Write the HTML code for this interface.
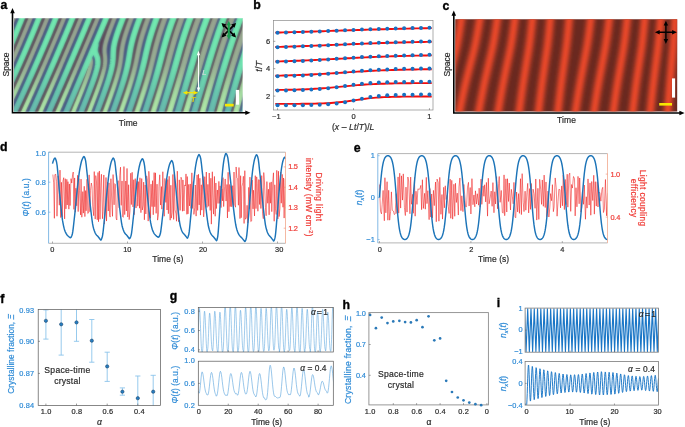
<!DOCTYPE html>
<html lang="en"><head><meta charset="utf-8"><title>Figure</title>
<style>html,body{margin:0;padding:0;background:#fff}svg{display:block}text{font-family:"Liberation Sans", sans-serif}</style></head>
<body>
<svg width="685" height="427" viewBox="0 0 685 427">
<defs><clipPath id="ca"><rect x="14" y="18.1" width="228.6" height="93.7"/></clipPath>
<linearGradient id="gA" gradientUnits="userSpaceOnUse" x1="0" y1="18" x2="0" y2="112"><stop offset="0" stop-color="#72eab0"/><stop offset="0.5" stop-color="#70e2b0"/><stop offset="0.8" stop-color="#68c6ae"/><stop offset="1" stop-color="#68baae"/></linearGradient>
<linearGradient id="gB" gradientUnits="userSpaceOnUse" x1="0" y1="18" x2="0" y2="112"><stop offset="0" stop-color="#98a590"/><stop offset="0.5" stop-color="#9ab094"/><stop offset="0.8" stop-color="#a6dca2"/><stop offset="1" stop-color="#b0eaa8"/></linearGradient>
<filter id="bla" filterUnits="userSpaceOnUse" x="0" y="0" width="260" height="130"><feGaussianBlur stdDeviation="0.9"/></filter>
<path id="pA" d="M8,51.88L8.55,50.6L9.21,49.1L9.85,47.6L10.5,46.1L11,44.93L11.57,43.6L12.21,42.1L12.85,40.6L13.49,39.1L14,37.88L14.54,36.6L15.17,35.1L15.8,33.6L16.42,32.1L17,30.72L17.5,29.51L18.08,28.1L18.7,26.6L19.32,25.1L19.93,23.6L20.5,22.2L21,20.97L21.55,19.6L22.16,18.1L22.76,16.6L23.36,15.1L23.96,13.6L24.5,12.25L24.56,12.1M8,89.27L8.54,88.1L9.23,86.6L9.92,85.1L10.5,83.84L11.07,82.6L11.75,81.1L12.44,79.6L13,78.36L13.57,77.1L14.25,75.6L14.93,74.1L15.5,72.83L16.05,71.6L16.73,70.1L17.4,68.6L18,67.25L18.51,66.1L19.18,64.6L19.84,63.1L20.5,61.61L21,60.47L21.6,59.1L22.26,57.6L22.92,56.1L23.5,54.77L24.01,53.6L24.66,52.1L25.31,50.6L25.96,49.1L26.5,47.84L27.03,46.6L27.68,45.1L28.32,43.6L28.96,42.1L29.5,40.83L30.02,39.6L30.66,38.1L31.29,36.6L31.92,35.1L32.5,33.72L33,32.53L33.6,31.1L34.22,29.6L34.85,28.1L35.47,26.6L36,25.31L36.5,24.1L37.12,22.6L37.73,21.1L38.35,19.6L38.96,18.1L39.5,16.77L40,15.54L40.58,14.1L41.19,12.6L41.39,12.1M11.65,118.1L12.35,116.6L13,115.22L13.52,114.1L14.23,112.6L14.93,111.1L15.5,109.87L16.09,108.6L16.79,107.1L17.48,105.6L18,104.48L18.64,103.1L19.33,101.6L20,100.15L20.5,99.06L21.17,97.6L21.86,96.1L22.5,94.69L23,93.6L23.68,92.1L24.36,90.6L25,89.2L25.5,88.1L26.18,86.6L26.85,85.1L27.5,83.67L28,82.56L28.65,81.1L29.33,79.6L30,78.1L30.5,76.98L31.11,75.6L31.78,74.1L32.45,72.6L33,71.35L33.56,70.1L34.22,68.6L34.88,67.1L35.5,65.69L36,64.55L36.64,63.1L37.29,61.6L37.95,60.1L38.5,58.84L39.04,57.6L39.69,56.1L40.34,54.6L40.99,53.1L41.5,51.92L42.07,50.6L42.71,49.1L43.36,47.6L44,46.1L44.5,44.93L45.07,43.6L45.71,42.1L46.35,40.6L46.98,39.1L47.5,37.88L48.04,36.6L48.68,35.1L49.31,33.6L49.94,32.1L50.5,30.76L51,29.57L51.61,28.1L52.24,26.6L52.86,25.1L53.49,23.6L54,22.36L54.52,21.1L55.14,19.6L55.76,18.1L56.38,16.6L56.99,15.1L57.5,13.86L58.01,12.6L58.22,12.1M28.96,118.1L29.5,116.91L30.09,115.6L30.78,114.1L31.46,112.6L32,111.41L32.59,110.1L33.27,108.6L33.95,107.1L34.5,105.88L35.08,104.6L35.75,103.1L36.43,101.6L37,100.33L37.55,99.1L38.22,97.6L38.89,96.1L39.5,94.74L40.01,93.6L40.68,92.1L41.35,90.6L42,89.14L42.5,88.01L43.13,86.6L43.79,85.1L44.45,83.6L45,82.37L45.56,81.1L46.22,79.6L46.88,78.1L47.5,76.69L48,75.55L48.64,74.1L49.29,72.6L49.95,71.1L50.5,69.84L51.04,68.6L51.7,67.1L52.35,65.6L53,64.1L53.5,62.95L54.09,61.6L54.74,60.1L55.39,58.6L56,57.18L56.5,56.02L57.11,54.6L57.76,53.1L58.4,51.6L59,50.2L59.5,49.04L60.12,47.6L60.76,46.1L61.4,44.6L62,43.18L62.5,42.01L63.1,40.6L63.74,39.1L64.37,37.6L65,36.12L65.5,34.94L66.06,33.6L66.7,32.1L67.33,30.6L67.96,29.1L68.5,27.81L69.01,26.6L69.64,25.1L70.27,23.6L70.89,22.1L71.5,20.64L72,19.44L72.56,18.1L73.18,16.6L73.8,15.1L74.43,13.6L75,12.21L75.05,12.1M46.26,118.1L46.92,116.6L47.5,115.3L48.03,114.1L48.69,112.6L49.35,111.1L50,109.63L50.5,108.49L51.11,107.1L51.77,105.6L52.43,104.1L53,102.8L53.53,101.6L54.18,100.1L54.84,98.6L55.5,97.1L56,95.95L56.59,94.6L57.24,93.1L57.9,91.6L58.5,90.22L59,89.07L59.64,87.6L60.29,86.1L60.95,84.6L61.5,83.33L62.03,82.1L62.68,80.6L63.33,79.1L63.98,77.6L64.5,76.41L65.07,75.1L65.71,73.6L66.36,72.1L67,70.62L67.5,69.46L68.09,68.1L68.73,66.6L69.38,65.1L70,63.66L70.5,62.49L71.1,61.1L71.74,59.6L72.39,58.1L73,56.67L73.5,55.5L74.1,54.1L74.74,52.6L75.38,51.1L76,49.65L76.5,48.48L77.09,47.1L77.73,45.6L78.37,44.1L79,42.61L79.5,41.44L80.07,40.1L80.7,38.6L81.34,37.1L81.98,35.6L82.5,34.36L83.04,33.1L83.67,31.6L84.3,30.1L84.94,28.6L85.5,27.27L86,26.08L86.62,24.6L87.26,23.1L87.89,21.6L88.5,20.14L89,18.95L89.57,17.6L90.2,16.1L90.83,14.6L91.45,13.1L91.87,12.1M63.57,118.1L64.21,116.6L64.85,115.1L65.49,113.6L66,112.42L66.56,111.1L67.21,109.6L67.85,108.1L68.49,106.6L69,105.4L69.56,104.1L70.2,102.6L70.84,101.1L71.48,99.6L72,98.38L72.55,97.1L73.19,95.6L73.83,94.1L74.47,92.6L75,91.36L75.54,90.1L76.18,88.6L76.82,87.1L77.46,85.6L78,84.33L78.53,83.1L79.16,81.6L79.8,80.1L80.44,78.6L81,77.3L81.51,76.1L82.15,74.6L82.79,73.1L83.43,71.6L84,70.26L84.5,69.08L85.13,67.6L85.77,66.1L86.41,64.6L87,63.21L87.5,62.04L88.11,60.6L88.75,59.1L89.39,57.6L90,56.16L90.5,54.99L91.09,53.6L91.73,52.1L92.36,50.6L93,49.11L93.5,47.93L94.07,46.6L94.7,45.1L95.34,43.6L95.98,42.1L96.5,40.87L97.04,39.6L97.68,38.1L98.31,36.6L98.95,35.1L99.5,33.8L100.01,32.6L100.65,31.1L101.28,29.6L101.92,28.1L102.5,26.73L103,25.55L103.62,24.1L104.25,22.6L104.89,21.1L105.5,19.65L106,18.47L106.58,17.1L107.22,15.6L107.85,14.1L108.49,12.6L108.7,12.1M94.56,118.1L95.14,116.6L95.71,115.1L96.29,113.6L96.86,112.1L97.43,110.6L98,109.1L98.5,107.78L99,106.45L99.51,105.1L100.07,103.6L100.64,102.1L101.2,100.6L101.75,99.1L102.31,97.6L102.86,96.1L103.4,94.6L103.95,93.1L104.49,91.6L105,90.16L105.5,88.75L106,87.31L106.5,85.86L107,84.39L107.5,82.9L108,81.38L108.5,79.82L109,78.22L109.49,76.6L109.93,75.1L110.35,73.6L110.75,72.1L111.13,70.6L111.5,69L111.9,67.1L112.18,65.6L112.5,63.6L112.69,62.1L112.88,60.1L113,58.41L113.08,56.6L113.15,54.6L113.22,52.6L113.33,50.6L113.5,48.77L113.71,47.1L114,45.37L114.36,43.6L114.7,42.1L115.09,40.6L115.5,39.1L116,37.4L116.5,35.8L117,34.26L117.5,32.78L118,31.33L118.5,29.91L119,28.52L119.52,27.1L120.08,25.6L120.64,24.1L121.21,22.6L121.79,21.1L122.37,19.6L122.96,18.1L123.5,16.73L124,15.47L124.55,14.1L125.15,12.6L125.35,12.1M110.58,118.1L111.13,116.6L111.67,115.1L112.22,113.6L112.76,112.1L113.3,110.6L113.84,109.1L114.38,107.6L114.92,106.1L115.46,104.6L115.99,103.1L116.5,101.66L117,100.25L117.5,98.83L118,97.4L118.5,95.96L119,94.51L119.5,93.05L120,91.58L120.5,90.09L121,88.59L121.5,87.07L122,85.54L122.5,83.97L123,82.38L123.5,80.76L124,79.11L124.44,77.6L124.87,76.1L125.29,74.6L125.7,73.1L126.09,71.6L126.5,69.96L126.94,68.1L127.28,66.6L127.6,65.1L128,63.13L128.29,61.6L128.56,60.1L128.9,58.1L129.15,56.6L129.47,54.6L129.71,53.1L130,51.39L130.31,49.6L130.59,48.1L130.99,46.1L131.32,44.6L131.66,43.1L132.03,41.6L132.5,39.79L132.96,38.1L133.39,36.6L133.84,35.1L134.31,33.6L134.79,32.1L135.28,30.6L135.78,29.1L136.3,27.6L136.82,26.1L137.36,24.6L137.9,23.1L138.45,21.6L139,20.12L139.5,18.79L140,17.47L140.53,16.1L141.11,14.6L141.69,13.1L142.08,12.1M126.72,118.1L127.24,116.6L127.76,115.1L128.28,113.6L128.8,112.1L129.31,110.6L129.83,109.1L130.34,107.6L130.86,106.1L131.37,104.6L131.88,103.1L132.38,101.6L132.89,100.1L133.39,98.6L133.89,97.1L134.39,95.6L134.88,94.1L135.38,92.6L135.86,91.1L136.35,89.6L136.82,88.1L137.3,86.6L137.77,85.1L138.23,83.6L138.69,82.1L139.14,80.6L139.58,79.1L140.02,77.6L140.5,75.9L141,74.11L141.41,72.6L141.81,71.1L142.21,69.6L142.59,68.1L143,66.46L143.45,64.6L143.81,63.1L144.16,61.6L144.5,60.1L144.95,58.1L145.29,56.6L145.62,55.1L146,53.41L146.41,51.6L146.75,50.1L147.11,48.6L147.5,46.96L147.96,45.1L148.34,43.6L148.74,42.1L149.15,40.6L149.57,39.1L150,37.59L150.5,35.91L151,34.27L151.5,32.67L152,31.12L152.5,29.6L153,28.1L153.5,26.63L154,25.19L154.5,23.77L155,22.37L155.5,20.99L156.01,19.6L156.56,18.1L157.12,16.6L157.69,15.1L158.26,13.6L158.84,12.1M142.99,118.1L143.49,116.6L143.99,115.1L144.48,113.6L144.97,112.1L145.47,110.6L145.96,109.1L146.45,107.6L146.94,106.1L147.43,104.6L147.92,103.1L148.41,101.6L148.89,100.1L149.38,98.6L149.86,97.1L150.34,95.6L150.82,94.1L151.29,92.6L151.76,91.1L152.23,89.6L152.7,88.1L153.16,86.6L153.62,85.1L154.07,83.6L154.52,82.1L155,80.49L155.5,78.79L155.99,77.1L156.42,75.6L156.85,74.1L157.27,72.6L157.69,71.1L158.1,69.6L158.51,68.1L159,66.26L159.44,64.6L159.84,63.1L160.23,61.6L160.62,60.1L161,58.6L161.5,56.68L161.91,55.1L162.3,53.6L162.69,52.1L163.08,50.6L163.5,49.03L164,47.17L164.43,45.6L164.85,44.1L165.27,42.6L165.71,41.1L166.15,39.6L166.6,38.1L167.06,36.6L167.52,35.1L168,33.59L168.5,32.04L169,30.51L169.5,29.01L170,27.54L170.5,26.08L171.02,24.6L171.55,23.1L172.08,21.6L172.63,20.1L173.18,18.6L173.73,17.1L174.3,15.6L174.87,14.1L175.44,12.6L175.63,12.1M159.39,118.1L159.86,116.6L160.34,115.1L160.81,113.6L161.28,112.1L161.76,110.6L162.23,109.1L162.7,107.6L163.17,106.1L163.65,104.6L164.12,103.1L164.59,101.6L165.05,100.1L165.52,98.6L166,97.06L166.5,95.45L167,93.83L167.5,92.2L167.99,90.6L168.45,89.1L168.9,87.6L169.36,86.1L169.81,84.6L170.26,83.1L170.71,81.6L171.15,80.1L171.59,78.6L172.03,77.1L172.5,75.49L173,73.76L173.48,72.1L173.91,70.6L174.33,69.1L174.76,67.6L175.18,66.1L175.6,64.6L176.02,63.1L176.5,61.39L177,59.6L177.42,58.1L177.84,56.6L178.26,55.1L178.69,53.6L179.11,52.1L179.54,50.6L180,49L180.5,47.28L180.99,45.6L181.44,44.1L181.89,42.6L182.35,41.1L182.81,39.6L183.28,38.1L183.76,36.6L184.24,35.1L184.73,33.6L185.22,32.1L185.73,30.6L186.24,29.1L186.75,27.6L187.27,26.1L187.8,24.6L188.34,23.1L188.88,21.6L189.42,20.1L189.98,18.6L190.5,17.2L191,15.87L191.5,14.55L192.05,13.1L192.44,12.1M175.9,118.1L176.35,116.6L176.8,115.1L177.26,113.6L177.71,112.1L178.17,110.6L178.62,109.1L179.08,107.6L179.53,106.1L180,104.55L180.5,102.9L181,101.25L181.5,99.6L181.95,98.1L182.41,96.6L182.86,95.1L183.31,93.6L183.76,92.1L184.22,90.6L184.67,89.1L185.12,87.6L185.56,86.1L186.01,84.6L186.5,82.96L187,81.27L187.5,79.6L187.94,78.1L188.38,76.6L188.82,75.1L189.26,73.6L189.7,72.1L190.14,70.6L190.58,69.1L191.02,67.6L191.5,65.95L192,64.23L192.48,62.6L192.92,61.1L193.36,59.6L193.8,58.1L194.24,56.6L194.68,55.1L195.13,53.6L195.58,52.1L196.03,50.6L196.5,49.05L197,47.42L197.5,45.8L198,44.19L198.5,42.6L198.98,41.1L199.46,39.6L199.95,38.1L200.44,36.6L200.93,35.1L201.44,33.6L201.95,32.1L202.46,30.6L202.98,29.1L203.5,27.61L204,26.2L204.5,24.8L205,23.42L205.5,22.04L206.03,20.6L206.59,19.1L207.15,17.6L207.72,16.1L208.29,14.6L208.87,13.1L209.26,12.1M192.5,118.1L193,116.38L193.5,114.65L193.95,113.1L194.39,111.6L194.83,110.1L195.26,108.6L195.7,107.1L196.14,105.6L196.58,104.1L197.03,102.6L197.5,100.99L198,99.29L198.5,97.6L198.94,96.1L199.38,94.6L199.83,93.1L200.27,91.6L200.71,90.1L201.16,88.6L201.6,87.1L202.04,85.6L202.5,84.06L203,82.37L203.5,80.68L203.97,79.1L204.41,77.6L204.86,76.1L205.3,74.6L205.75,73.1L206.19,71.6L206.64,70.1L207.09,68.6L207.53,67.1L208,65.54L208.5,63.88L209,62.21L209.49,60.6L209.94,59.1L210.4,57.6L210.86,56.1L211.32,54.6L211.78,53.1L212.25,51.6L212.72,50.1L213.19,48.6L213.67,47.1L214.15,45.6L214.63,44.1L215.12,42.6L215.61,41.1L216.11,39.6L216.61,38.1L217.11,36.6L217.62,35.1L218.14,33.6L218.66,32.1L219.19,30.6L219.72,29.1L220.25,27.6L220.79,26.1L221.34,24.6L221.89,23.1L222.44,21.6L223,20.11L223.5,18.79L224,17.48L224.53,16.1L225.11,14.6L225.69,13.1L226.09,12.1M209.19,118.1L209.61,116.6L210.03,115.1L210.5,113.4L211,111.62L211.43,110.1L211.85,108.6L212.27,107.1L212.7,105.6L213.13,104.1L213.56,102.6L214,101.05L214.5,99.3L214.99,97.6L215.42,96.1L215.86,94.6L216.29,93.1L216.73,91.6L217.16,90.1L217.6,88.6L218.04,87.1L218.5,85.53L219,83.83L219.5,82.13L219.95,80.6L220.4,79.1L220.84,77.6L221.29,76.1L221.73,74.6L222.18,73.1L222.63,71.6L223.08,70.1L223.54,68.6L224,67.07L224.5,65.42L225,63.79L225.5,62.16L225.98,60.6L226.45,59.1L226.91,57.6L227.38,56.1L227.86,54.6L228.33,53.1L228.81,51.6L229.29,50.1L229.78,48.6L230.27,47.1L230.76,45.6L231.25,44.1L231.75,42.6L232.26,41.1L232.77,39.6L233.28,38.1L233.8,36.6L234.32,35.1L234.84,33.6L235.37,32.1L235.91,30.6L236.45,29.1L237,27.6L237.5,26.22L238,24.87L238.5,23.53L239.04,22.1L239.6,20.6L240.18,19.1L240.75,17.6L241.34,16.1L241.92,14.6L242.5,13.14L242.92,12.1M225.95,118.1L226.35,116.6L226.75,115.1L227.16,113.6L227.56,112.1L228,110.48L228.5,108.65L228.92,107.1L229.34,105.6L229.75,104.1L230.17,102.6L230.59,101.1L231,99.6L231.5,97.84L231.99,96.1L232.41,94.6L232.84,93.1L233.27,91.6L233.7,90.1L234.13,88.6L234.57,87.1L235,85.6L235.5,83.88L236,82.17L236.46,80.6L236.9,79.1L237.35,77.6L237.79,76.1L238.24,74.6L238.69,73.1L239.15,71.6L239.6,70.1L240.06,68.6L240.51,67.1L241,65.52L241.5,63.9L242,62.29L242.5,60.69L243,59.1L243.48,57.6L243.95,56.1L244.43,54.6L244.92,53.1L245.41,51.6L245.9,50.1L246.39,48.6L246.89,47.1L247.39,45.6L247.9,44.1L248.41,42.6L248.92,41.1L249,40.87M95.52,46.6L95.63,46.1L95.5,46.05L95.43,46.1L95.49,46.6L95.5,46.68L95.52,46.6M78.66,118.1L79.26,116.6L79.87,115.1L80.47,113.6L81,112.29L81.5,111.04L82.08,109.6L82.68,108.1L83.28,106.6L83.87,105.1L84.47,103.6L85,102.27L85.5,101L86.05,99.6L86.64,98.1L87.23,96.6L87.82,95.1L88.4,93.6L88.98,92.1L89.5,90.73L90,89.42L90.5,88.1L91.06,86.6L91.62,85.1L92.17,83.6L92.71,82.1L93.25,80.6L93.77,79.1L94.28,77.6L94.78,76.1L95.26,74.6L95.73,73.1L96.16,71.6L96.57,70.1L97,68.36L97.37,66.6L97.62,65.1L97.84,63.1L97.88,61.1L97.67,59.1L97.32,57.6L96.81,56.1L96.18,54.6L95.58,53.1L95.2,51.6L95.08,49.6L95.31,47.6L94.5,48.43L93.72,49.6L93.2,51.1L92.67,52.6L92.16,54.1M242.78,118.1L243.16,116.6L243.55,115.1L244,113.35L244.45,111.6L244.85,110.1L245.24,108.6L245.64,107.1L246.04,105.6L246.5,103.89L246.98,102.1L247.39,100.6L247.8,99.1L248.21,97.6L248.63,96.1L249,94.75"/><path id="pB" d="M16.14,12.1L15.55,13.6L15,14.99L14.5,16.25L13.96,17.6L13.36,19.1L12.76,20.6L12.15,22.1L11.54,23.6L11,24.93L10.5,26.15L9.91,27.6L9.29,29.1L8.67,30.6L8.05,32.1L8,32.21M32.97,12.1L32.37,13.6L31.77,15.1L31.17,16.6L30.56,18.1L30,19.48L29.5,20.71L28.93,22.1L28.32,23.6L27.7,25.1L27.08,26.6L26.5,28.01L26,29.22L25.43,30.6L24.8,32.1L24.18,33.6L23.55,35.1L23,36.4L22.49,37.6L21.86,39.1L21.22,40.6L20.59,42.1L20,43.47L19.5,44.64L18.87,46.1L18.23,47.6L17.58,49.1L17,50.44L16.5,51.6L15.84,53.1L15.19,54.6L14.53,56.1L14,57.32L13.44,58.6L12.77,60.1L12.11,61.6L11.5,62.98L11,64.1L10.33,65.6L9.66,67.1L9,68.57L8.5,69.68L8,70.79M49.8,12.1L49.2,13.6L48.58,15.1L48,16.53L47.5,17.76L46.95,19.1L46.33,20.6L45.72,22.1L45.1,23.6L44.5,25.04L44,26.25L43.44,27.6L42.81,29.1L42.19,30.6L41.56,32.1L41,33.43L40.5,34.62L39.88,36.1L39.24,37.6L38.61,39.1L38,40.53L37.5,41.71L36.91,43.1L36.27,44.6L35.62,46.1L35,47.55L34.5,48.72L33.9,50.1L33.26,51.6L32.61,53.1L32,54.5L31.5,55.65L30.87,57.1L30.21,58.6L29.56,60.1L29,61.37L28.46,62.6L27.8,64.1L27.14,65.6L26.5,67.04L26,68.16L25.36,69.6L24.69,71.1L24.03,72.6L23.5,73.77L22.91,75.1L22.23,76.6L21.56,78.1L21,79.34L20.43,80.6L19.75,82.1L19.07,83.6L18.5,84.85L17.93,86.1L17.25,87.6L16.56,89.1L16,90.32L15.41,91.6L14.72,93.1L14.03,94.6L13.5,95.75L12.88,97.1L12.18,98.6L11.5,100.06L11,101.13L10.32,102.6L9.61,104.1L9,105.41L8.44,106.6L8,107.54M66.63,12.1L66.02,13.6L65.5,14.85L64.99,16.1L64.37,17.6L63.74,19.1L63.12,20.6L62.5,22.1L62,23.3L61.46,24.6L60.83,26.1L60.21,27.6L59.58,29.1L59,30.47L58.5,31.66L57.9,33.1L57.26,34.6L56.63,36.1L56,37.59L55.5,38.77L54.93,40.1L54.3,41.6L53.66,43.1L53.02,44.6L52.5,45.81L51.95,47.1L51.31,48.6L50.66,50.1L50.02,51.6L49.5,52.8L48.94,54.1L48.29,55.6L47.64,57.1L47,58.58L46.5,59.74L45.91,61.1L45.25,62.6L44.6,64.1L44,65.47L43.5,66.62L42.85,68.1L42.19,69.6L41.53,71.1L41,72.31L40.43,73.6L39.77,75.1L39.1,76.6L38.5,77.96L38,79.1L37.33,80.6L36.66,82.1L36,83.58L35.5,84.7L34.87,86.1L34.2,87.6L33.53,89.1L33,90.28L32.41,91.6L31.73,93.1L31.05,94.6L30.5,95.82L29.92,97.1L29.24,98.6L28.56,100.1L28,101.33L27.42,102.6L26.74,104.1L26.05,105.6L25.5,106.81L24.91,108.1L24.22,109.6L23.53,111.1L23,112.26L22.38,113.6L21.69,115.1L21,116.59L20.5,117.67L20.3,118.1M83.46,12.1L82.84,13.6L82.21,15.1L81.58,16.6L81,18L80.5,19.2L79.91,20.6L79.28,22.1L78.66,23.6L78.03,25.1L77.5,26.35L76.97,27.6L76.34,29.1L75.71,30.6L75.08,32.1L74.5,33.47L74,34.65L73.39,36.1L72.75,37.6L72.11,39.1L71.5,40.55L71,41.72L70.41,43.1L69.77,44.6L69.14,46.1L68.5,47.59L68,48.76L67.43,50.1L66.78,51.6L66.14,53.1L65.5,54.59L65,55.76L64.42,57.1L63.78,58.6L63.13,60.1L62.5,61.57L62,62.72L61.41,64.1L60.76,65.6L60.11,67.1L59.5,68.5L59,69.65L58.37,71.1L57.72,72.6L57.07,74.1L56.5,75.4L55.98,76.6L55.32,78.1L54.67,79.6L54.01,81.1L53.5,82.27L52.92,83.6L52.26,85.1L51.6,86.6L51,87.97L50.5,89.1L49.84,90.6L49.18,92.1L48.52,93.6L48,94.77L47.41,96.1L46.75,97.6L46.09,99.1L45.5,100.42L44.98,101.6L44.31,103.1L43.64,104.6L43,106.05L42.5,107.17L41.86,108.6L41.19,110.1L40.52,111.6L40,112.77L39.4,114.1L38.73,115.6L38.06,117.1L37.61,118.1M100.29,12.1L99.65,13.6L99.02,15.1L98.5,16.34L97.97,17.6L97.34,19.1L96.7,20.6L96.07,22.1L95.5,23.45L95,24.63L94.38,26.1L93.74,27.6L93.11,29.1L92.5,30.54L92,31.72L91.42,33.1L90.78,34.6L90.14,36.1L89.51,37.6L89,38.8L88.45,40.1L87.81,41.6L87.17,43.1L86.53,44.6L86,45.86L85.47,47.1L84.83,48.6L84.19,50.1L83.55,51.6L83,52.9L82.49,54.1L81.85,55.6L81.21,57.1L80.57,58.6L80,59.93L79.5,61.1L78.86,62.6L78.22,64.1L77.57,65.6L77,66.94L76.5,68.11L75.86,69.6L75.22,71.1L74.57,72.6L74,73.94L73.5,75.1L72.86,76.6L72.21,78.1L71.57,79.6L71,80.92L70.49,82.1L69.85,83.6L69.2,85.1L68.55,86.6L68,87.89L67.48,89.1L66.83,90.6L66.18,92.1L65.53,93.6L65,94.84L64.45,96.1L63.81,97.6L63.16,99.1L62.51,100.6L62,101.78L61.43,103.1L60.78,104.6L60.13,106.1L59.5,107.54L59,108.7L58.39,110.1L57.74,111.6L57.09,113.1L56.5,114.46L56,115.61L55.35,117.1L54.91,118.1M116.99,12.1L116.38,13.6L115.77,15.1L115.16,16.6L114.56,18.1L114,19.5L113.5,20.75L112.97,22.1L112.37,23.6L111.79,25.1L111.21,26.6L110.63,28.1L110.06,29.6L109.5,31.1L109,32.47L108.5,33.86L108,35.28L107.5,36.74L107,38.26L106.5,39.86L106,41.57L105.6,43.1L105.25,44.6L104.96,46.1L104.69,48.1L104.57,50.1L104.62,52.1L104.79,54.1L105,56.02L105.14,57.6L105.22,59.6L105.19,61.6L105.02,63.6L104.83,65.1L104.5,67.03L104.18,68.6L103.83,70.1L103.45,71.6L103,73.25L102.5,74.98L102.01,76.6L101.53,78.1L101.05,79.6L100.55,81.1L100.04,82.6L99.51,84.1L99,85.56L98.5,86.96L98,88.35L97.5,89.72L96.99,91.1L96.44,92.6L95.88,94.1L95.31,95.6L94.75,97.1L94.18,98.6L93.6,100.1L93.03,101.6L92.5,102.97L92,104.27L91.48,105.6L90.9,107.1L90.32,108.6L89.73,110.1L89.15,111.6L88.56,113.1L88,114.53L87.5,115.81L86.99,117.1L86.6,118.1M133.71,12.1L133.12,13.6L132.53,15.1L132,16.45L131.5,17.74L130.98,19.1L130.41,20.6L129.84,22.1L129.28,23.6L128.73,25.1L128.19,26.6L127.65,28.1L127.13,29.6L126.62,31.1L126.12,32.6L125.63,34.1L125.16,35.6L124.71,37.1L124.28,38.6L123.87,40.1L123.49,41.6L123.02,43.6L122.71,45.1L122.42,46.6L122.09,48.6L121.87,50.1L121.61,52.1L121.44,53.6L121.22,55.6L121,57.54L120.81,59.1L120.54,61.1L120.31,62.6L120,64.4L119.68,66.1L119.37,67.6L119,69.24L118.55,71.1L118.17,72.6L117.77,74.1L117.35,75.6L116.92,77.1L116.48,78.6L116,80.16L115.5,81.76L115,83.32L114.5,84.85L114,86.36L113.5,87.85L113,89.32L112.5,90.78L112,92.22L111.5,93.65L110.99,95.1L110.45,96.6L109.92,98.1L109.38,99.6L108.83,101.1L108.29,102.6L107.74,104.1L107.19,105.6L106.64,107.1L106.09,108.6L105.53,110.1L105,111.54L104.5,112.89L104,114.23L103.49,115.6L102.93,117.1L102.56,118.1M150.46,12.1L149.88,13.6L149.3,15.1L148.73,16.6L148.16,18.1L147.6,19.6L147.05,21.1L146.5,22.6L146,24L145.5,25.42L145,26.85L144.5,28.31L144,29.8L143.5,31.33L143,32.89L142.5,34.49L142.01,36.1L141.58,37.6L141.15,39.1L140.74,40.6L140.35,42.1L139.97,43.6L139.5,45.58L139.15,47.1L138.82,48.6L138.5,50.13L138.1,52.1L137.8,53.6L137.5,55.11L137.11,57.1L136.81,58.6L136.5,60.13L136.09,62.1L135.76,63.6L135.43,65.1L135,66.96L134.61,68.6L134.23,70.1L133.85,71.6L133.45,73.1L133,74.75L132.5,76.53L132.05,78.1L131.61,79.6L131.16,81.1L130.7,82.6L130.24,84.1L129.77,85.6L129.29,87.1L128.8,88.6L128.31,90.1L127.82,91.6L127.32,93.1L126.82,94.6L126.31,96.1L125.81,97.6L125.29,99.1L124.78,100.6L124.26,102.1L123.74,103.6L123.22,105.1L122.69,106.6L122.17,108.1L121.64,109.6L121.11,111.1L120.58,112.6L120.05,114.1L119.52,115.6L119,117.07L118.63,118.1M167.23,12.1L166.66,13.6L166.09,15.1L165.52,16.6L165,18L164.5,19.35L164,20.72L163.5,22.11L162.97,23.6L162.44,25.1L161.92,26.6L161.41,28.1L160.91,29.6L160.41,31.1L159.93,32.6L159.45,34.1L158.99,35.6L158.5,37.22L158,38.91L157.51,40.6L157.09,42.1L156.68,43.6L156.27,45.1L155.88,46.6L155.49,48.1L155,50.05L154.61,51.6L154.24,53.1L153.88,54.6L153.5,56.16L153.03,58.1L152.66,59.6L152.29,61.1L151.92,62.6L151.5,64.29L151.04,66.1L150.65,67.6L150.26,69.1L149.86,70.6L149.45,72.1L149,73.73L148.5,75.51L148.05,77.1L147.61,78.6L147.17,80.1L146.73,81.6L146.27,83.1L145.82,84.6L145.36,86.1L144.89,87.6L144.42,89.1L143.95,90.6L143.47,92.1L142.99,93.6L142.5,95.12L142,96.66L141.5,98.19L141,99.71L140.5,101.23L140,102.74L139.5,104.25L139,105.75L138.5,107.24L138,108.73L137.5,110.22L137,111.71L136.5,113.19L136,114.68L135.5,116.15L135,117.63L134.84,118.1M184.03,12.1L183.5,13.49L183,14.8L182.5,16.13L181.95,17.6L181.39,19.1L180.84,20.6L180.3,22.1L179.77,23.6L179.24,25.1L178.71,26.6L178.2,28.1L177.69,29.6L177.19,31.1L176.69,32.6L176.21,34.1L175.73,35.6L175.25,37.1L174.79,38.6L174.33,40.1L173.88,41.6L173.44,43.1L173,44.61L172.5,46.35L172,48.1L171.58,49.6L171.17,51.1L170.76,52.6L170.35,54.1L169.94,55.6L169.5,57.23L169,59.08L168.59,60.6L168.18,62.1L167.78,63.6L167.37,65.1L166.96,66.6L166.5,68.25L166,70.04L165.56,71.6L165.14,73.1L164.71,74.6L164.28,76.1L163.84,77.6L163.4,79.1L162.96,80.6L162.5,82.16L162,83.83L161.5,85.49L161.01,87.1L160.55,88.6L160.09,90.1L159.63,91.6L159.16,93.1L158.69,94.6L158.22,96.1L157.75,97.6L157.27,99.1L156.8,100.6L156.32,102.1L155.84,103.6L155.36,105.1L154.88,106.6L154.4,108.1L153.92,109.6L153.44,111.1L152.95,112.6L152.47,114.1L151.98,115.6L151.5,117.1L151.18,118.1M200.85,12.1L200.27,13.6L199.69,15.1L199.13,16.6L198.56,18.1L198.01,19.6L197.5,20.97L197,22.34L196.5,23.73L196,25.13L195.48,26.6L194.95,28.1L194.44,29.6L193.92,31.1L193.42,32.6L192.92,34.1L192.42,35.6L191.94,37.1L191.45,38.6L190.98,40.1L190.5,41.62L190,43.23L189.5,44.86L189,46.51L188.52,48.1L188.08,49.6L187.63,51.1L187.19,52.6L186.76,54.1L186.32,55.6L185.89,57.1L185.45,58.6L185,60.18L184.5,61.93L184.02,63.6L183.59,65.1L183.16,66.6L182.73,68.1L182.3,69.6L181.86,71.1L181.43,72.6L180.99,74.1L180.5,75.79L180,77.49L179.53,79.1L179.08,80.6L178.64,82.1L178.19,83.6L177.74,85.1L177.29,86.6L176.84,88.1L176.39,89.6L175.93,91.1L175.48,92.6L175,94.17L174.5,95.81L174,97.45L173.5,99.08L173.03,100.6L172.57,102.1L172.11,103.6L171.65,105.1L171.18,106.6L170.72,108.1L170.26,109.6L169.79,111.1L169.33,112.6L168.87,114.1L168.4,115.6L167.94,117.1L167.63,118.1M217.67,12.1L217.09,13.6L216.51,15.1L216,16.42L215.5,17.74L214.99,19.1L214.42,20.6L213.87,22.1L213.32,23.6L212.77,25.1L212.23,26.6L211.7,28.1L211.17,29.6L210.65,31.1L210.13,32.6L209.62,34.1L209.11,35.6L208.61,37.1L208.11,38.6L207.62,40.1L207.13,41.6L206.65,43.1L206.17,44.6L205.69,46.1L205.22,47.6L204.76,49.1L204.29,50.6L203.83,52.1L203.37,53.6L202.92,55.1L202.46,56.6L202,58.14L201.5,59.81L201,61.49L200.52,63.1L200.08,64.6L199.63,66.1L199.19,67.6L198.75,69.1L198.3,70.6L197.86,72.1L197.42,73.6L196.97,75.1L196.5,76.71L196,78.4L195.5,80.09L195.05,81.6L194.61,83.1L194.16,84.6L193.72,86.1L193.27,87.6L192.82,89.1L192.38,90.6L191.93,92.1L191.48,93.6L191,95.22L190.5,96.89L190,98.56L189.54,100.1L189.09,101.6L188.65,103.1L188.2,104.6L187.75,106.1L187.3,107.6L186.86,109.1L186.41,110.6L185.96,112.1L185.5,113.67L185,115.35L184.5,117.04L184.19,118.1M234.5,12.1L234,13.37L233.5,14.64L232.93,16.1L232.35,17.6L231.78,19.1L231.21,20.6L230.65,22.1L230.09,23.6L229.53,25.1L229,26.56L228.5,27.94L228,29.33L227.5,30.73L227,32.15L226.49,33.6L225.97,35.1L225.45,36.6L224.94,38.1L224.44,39.6L223.93,41.1L223.43,42.6L222.94,44.1L222.45,45.6L221.96,47.1L221.48,48.6L221,50.1L220.5,51.68L220,53.26L219.5,54.86L219,56.47L218.5,58.08L218.03,59.6L217.57,61.1L217.12,62.6L216.66,64.1L216.21,65.6L215.75,67.1L215.3,68.6L214.85,70.1L214.4,71.6L213.95,73.1L213.5,74.63L213,76.31L212.5,77.99L212.02,79.6L211.58,81.1L211.14,82.6L210.69,84.1L210.25,85.6L209.81,87.1L209.37,88.6L208.93,90.1L208.49,91.6L208,93.26L207.5,94.97L207.02,96.6L206.59,98.1L206.15,99.6L205.71,101.1L205.28,102.6L204.84,104.1L204.41,105.6L203.98,107.1L203.5,108.76L203,110.5L202.54,112.1L202.12,113.6L201.69,115.1L201.26,116.6L200.84,118.1M249,18L248.5,19.29L248,20.6L247.42,22.1L246.86,23.6L246.29,25.1L245.74,26.6L245.18,28.1L244.64,29.6L244.09,31.1L243.55,32.6L243.02,34.1L242.5,35.57L242,37L241.5,38.44L241,39.89L240.5,41.36L240,42.83L239.5,44.32L239,45.82L238.5,47.33L238,48.85L237.5,50.38L237,51.92L236.5,53.48L236,55.04L235.5,56.6L235.03,58.1L234.56,59.6L234.09,61.1L233.63,62.6L233.16,64.1L232.7,65.6L232.24,67.1L231.79,68.6L231.33,70.1L230.88,71.6L230.43,73.1L229.98,74.6L229.5,76.21L229,77.89L228.5,79.58L228.05,81.1L227.61,82.6L227.17,84.1L226.73,85.6L226.29,87.1L225.86,88.6L225.42,90.1L224.99,91.6L224.5,93.3L224,95.04L223.55,96.6L223.13,98.1L222.7,99.6L222.28,101.1L221.85,102.6L221.43,104.1L221,105.63L220.5,107.42L220.03,109.1L219.62,110.6L219.2,112.1L218.79,113.6L218.38,115.1L217.97,116.6L217.56,118.1M90.44,58.6L90.88,60.1L91.04,61.6L90.99,63.1L90.72,65.1L90.41,66.6L90,68.25L89.5,70.02L89.01,71.6L88.53,73.1L88.02,74.6L87.5,76.07L87,77.47L86.5,78.84L86,80.18L85.47,81.6L84.89,83.1L84.32,84.6L83.73,86.1L83.15,87.6L82.56,89.1L82,90.5L81.5,91.76L80.96,93.1L80.36,94.6L79.76,96.1L79.15,97.6L78.54,99.1L78,100.43L77.5,101.66L76.91,103.1L76.3,104.6L75.69,106.1L75.07,107.6L74.5,108.99L74,110.2L73.42,111.6L72.81,113.1L72.19,114.6L71.57,116.1L71,117.47L70.74,118.1M249,66.44L248.5,68.06L248.03,69.6L247.58,71.1L247.12,72.6L246.67,74.1L246.22,75.6L245.78,77.1L245.33,78.6L244.89,80.1L244.45,81.6L244,83.14L243.5,84.86L243,86.59L242.57,88.1L242.14,89.6L241.71,91.1L241.29,92.6L240.86,94.1L240.44,95.6L240,97.18L239.5,98.97L239.05,100.6L238.64,102.1L238.23,103.6L237.82,105.1L237.41,106.6L237,108.12L236.5,109.98L236.07,111.6L235.67,113.1L235.27,114.6L234.88,116.1L234.49,117.6L234.36,118.1"/><path id="pC" d="M8,22.82L8.5,21.58L9.1,20.1L9.7,18.6L10.29,17.1L10.89,15.6L11.48,14.1L12,12.79L12.27,12.1M8,62.16L8.5,61.04L9.14,59.6L9.8,58.1L10.46,56.6L11,55.37L11.55,54.1L12.21,52.6L12.86,51.1L13.5,49.63L14,48.47L14.59,47.1L15.24,45.6L15.88,44.1L16.5,42.65L17,41.47L17.58,40.1L18.22,38.6L18.85,37.1L19.48,35.6L20,34.37L20.53,33.1L21.16,31.6L21.78,30.1L22.4,28.6L23,27.15L23.5,25.94L24.05,24.6L24.66,23.1L25.28,21.6L25.89,20.1L26.49,18.6L27,17.35L27.5,16.1L28.1,14.6L28.7,13.1L29.1,12.1M8,99.15L8.5,98.08L9.19,96.6L9.88,95.1L10.5,93.77L11.04,92.6L11.74,91.1L12.43,89.6L13,88.36L13.58,87.1L14.26,85.6L14.95,84.1L15.5,82.89L16.09,81.6L16.77,80.1L17.45,78.6L18,77.38L18.58,76.1L19.25,74.6L19.93,73.1L20.5,71.82L21.05,70.6L21.72,69.1L22.38,67.6L23,66.21L23.5,65.08L24.16,63.6L24.82,62.1L25.48,60.6L26,59.41L26.57,58.1L27.23,56.6L27.88,55.1L28.5,53.68L29,52.53L29.62,51.1L30.27,49.6L30.91,48.1L31.5,46.73L32,45.57L32.63,44.1L33.27,42.6L33.91,41.1L34.5,39.7L35,38.52L35.6,37.1L36.23,35.6L36.87,34.1L37.49,32.6L38,31.39L38.54,30.1L39.17,28.6L39.79,27.1L40.41,25.6L41,24.17L41.5,22.96L42.06,21.6L42.68,20.1L43.29,18.6L43.9,17.1L44.5,15.64L45,14.4L45.53,13.1L45.93,12.1M16.32,118.1L17,116.64L17.5,115.57L18.18,114.1L18.88,112.6L19.5,111.26L20.04,110.1L20.73,108.6L21.42,107.1L22,105.84L22.57,104.6L23.26,103.1L23.95,101.6L24.5,100.39L25.09,99.1L25.77,97.6L26.46,96.1L27,94.9L27.59,93.6L28.27,92.1L28.95,90.6L29.5,89.38L30.08,88.1L30.75,86.6L31.43,85.1L32,83.82L32.55,82.6L33.22,81.1L33.89,79.6L34.5,78.23L35,77.1L35.67,75.6L36.33,74.1L37,72.6L37.5,71.46L38.1,70.1L38.76,68.6L39.42,67.1L40,65.78L40.52,64.6L41.17,63.1L41.83,61.6L42.48,60.1L43,58.91L43.57,57.6L44.22,56.1L44.87,54.6L45.5,53.14L46,51.98L46.59,50.6L47.24,49.1L47.88,47.6L48.5,46.16L49,44.99L49.59,43.6L50.23,42.1L50.87,40.6L51.5,39.12L52,37.94L52.57,36.6L53.2,35.1L53.83,33.6L54.46,32.1L55,30.82L55.51,29.6L56.14,28.1L56.77,26.6L57.39,25.1L58,23.64L58.5,22.43L59.05,21.1L59.68,19.6L60.29,18.1L60.91,16.6L61.5,15.17L62,13.96L62.56,12.6L62.76,12.1M33.63,118.1L34.31,116.6L34.98,115.1L35.5,113.96L36.11,112.6L36.79,111.1L37.46,109.6L38,108.4L38.58,107.1L39.26,105.6L39.93,104.1L40.5,102.82L41.04,101.6L41.71,100.1L42.38,98.6L43,97.21L43.5,96.09L44.16,94.6L44.83,93.1L45.49,91.6L46,90.45L46.6,89.1L47.26,87.6L47.92,86.1L48.5,84.79L49.02,83.6L49.68,82.1L50.34,80.6L51,79.1L51.5,77.96L52.1,76.6L52.75,75.1L53.41,73.6L54,72.24L54.5,71.1L55.15,69.6L55.8,68.1L56.46,66.6L57,65.35L57.54,64.1L58.19,62.6L58.84,61.1L59.49,59.6L60,58.41L60.56,57.1L61.21,55.6L61.85,54.1L62.5,52.6L63,51.43L63.57,50.1L64.21,48.6L64.85,47.1L65.49,45.6L66,44.41L66.56,43.1L67.2,41.6L67.84,40.1L68.47,38.6L69,37.36L69.53,36.1L70.17,34.6L70.8,33.1L71.43,31.6L72,30.26L72.5,29.07L73.12,27.6L73.75,26.1L74.38,24.6L75,23.11L75.5,21.92L76.05,20.6L76.68,19.1L77.3,17.6L77.93,16.1L78.5,14.72L79,13.52L79.59,12.1M50.93,118.1L51.5,116.81L52.03,115.6L52.69,114.1L53.34,112.6L54,111.1L54.5,109.95L55.09,108.6L55.75,107.1L56.4,105.6L57,104.22L57.5,103.08L58.14,101.6L58.8,100.1L59.45,98.6L60,97.33L60.54,96.1L61.19,94.6L61.84,93.1L62.49,91.6L63,90.42L63.57,89.1L64.22,87.6L64.87,86.1L65.5,84.65L66,83.49L66.6,82.1L67.25,80.6L67.9,79.1L68.5,77.7L69,76.54L69.62,75.1L70.27,73.6L70.91,72.1L71.5,70.73L72,69.57L72.63,68.1L73.28,66.6L73.92,65.1L74.5,63.75L75,62.58L75.63,61.1L76.28,59.6L76.92,58.1L77.5,56.74L78,55.57L78.63,54.1L79.27,52.6L79.91,51.1L80.5,49.72L81,48.54L81.62,47.1L82.25,45.6L82.89,44.1L83.5,42.67L84,41.49L84.59,40.1L85.23,38.6L85.87,37.1L86.5,35.6L87,34.42L87.56,33.1L88.2,31.6L88.83,30.1L89.46,28.6L90,27.33L90.52,26.1L91.15,24.6L91.79,23.1L92.42,21.6L93,20.22L93.5,19.04L94.1,17.6L94.74,16.1L95.37,14.6L96,13.1L96.42,12.1M82.94,118.1L83.5,116.7L84,115.45L84.53,114.1L85.13,112.6L85.72,111.1L86.31,109.6L86.91,108.1L87.5,106.6L88,105.32L88.5,104.04L89.06,102.6L89.65,101.1L90.23,99.6L90.81,98.1L91.39,96.6L91.96,95.1L92.5,93.69L93,92.37L93.5,91.04L94.04,89.6L94.59,88.1L95.14,86.6L95.69,85.1L96.22,83.6L96.75,82.1L97.27,80.6L97.78,79.1L98.27,77.6L98.76,76.1L99.22,74.6L99.66,73.1L100.08,71.6L100.5,69.98L100.94,68.1L101.23,66.6L101.5,64.96L101.71,63.1L101.79,61.1L101.71,59.1L101.5,57.42L101.16,55.6L100.83,54.1L100.5,52.27L100.34,50.6L100.38,48.6L100.56,47.1L100.93,45.1L101.3,43.6L101.72,42.1L102.17,40.6L102.66,39.1L103.17,37.6L103.69,36.1L104.24,34.6L104.79,33.1L105.36,31.6L105.93,30.1L106.5,28.62L107,27.34L107.5,26.07L108.08,24.6L108.68,23.1L109.28,21.6L109.89,20.1L110.49,18.6L111,17.35L111.51,16.1L112.12,14.6L112.74,13.1L113.15,12.1M98.88,118.1L99.44,116.6L100,115.12L100.5,113.8L101,112.47L101.51,111.1L102.08,109.6L102.64,108.1L103.2,106.6L103.75,105.1L104.31,103.6L104.86,102.1L105.41,100.6L105.96,99.1L106.5,97.62L107,96.24L107.5,94.85L108,93.45L108.5,92.04L109.01,90.6L109.53,89.1L110.04,87.6L110.55,86.1L111.06,84.6L111.55,83.1L112.03,81.6L112.51,80.1L113,78.51L113.5,76.84L114,75.11L114.42,73.6L114.81,72.1L115.19,70.6L115.54,69.1L115.97,67.1L116.26,65.6L116.53,64.1L116.83,62.1L117.02,60.6L117.24,58.6L117.42,56.6L117.53,55.1L117.69,53.1L117.88,51.1L118.04,49.6L118.32,47.6L118.56,46.1L118.95,44.1L119.28,42.6L119.65,41.1L120.04,39.6L120.5,37.98L121,36.3L121.5,34.7L122,33.16L122.5,31.67L123,30.22L123.5,28.79L124,27.4L124.5,26.02L125.02,24.6L125.58,23.1L126.15,21.6L126.72,20.1L127.3,18.6L127.89,17.1L128.47,15.6L129,14.27L129.5,13.01L129.86,12.1M114.92,118.1L115.46,116.6L116,115.1L116.5,113.71L117,112.31L117.5,110.91L118,109.51L118.5,108.1L119.03,106.6L119.56,105.1L120.09,103.6L120.61,102.1L121.14,100.6L121.66,99.1L122.18,97.6L122.69,96.1L123.2,94.6L123.71,93.1L124.21,91.6L124.71,90.1L125.21,88.6L125.69,87.1L126.18,85.6L126.65,84.1L127.12,82.6L127.58,81.1L128.03,79.6L128.5,78.01L129,76.27L129.47,74.6L129.87,73.1L130.27,71.6L130.65,70.1L131.02,68.6L131.48,66.6L131.82,65.1L132.14,63.6L132.5,61.85L132.84,60.1L133.13,58.6L133.5,56.6L133.77,55.1L134.04,53.6L134.41,51.6L134.7,50.1L135,48.6L135.42,46.6L135.76,45.1L136.11,43.6L136.5,42L136.99,40.1L137.4,38.6L137.83,37.1L138.27,35.6L138.73,34.1L139.2,32.6L139.69,31.1L140.18,29.6L140.69,28.1L141.21,26.6L141.73,25.1L142.27,23.6L142.81,22.1L143.36,20.6L143.92,19.1L144.49,17.6L145,16.25L145.5,14.95L146.02,13.6L146.6,12.1M131.1,118.1L131.62,116.6L132.13,115.1L132.64,113.6L133.15,112.1L133.66,110.6L134.17,109.1L134.68,107.6L135.19,106.1L135.69,104.6L136.19,103.1L136.7,101.6L137.2,100.1L137.69,98.6L138.19,97.1L138.68,95.6L139.17,94.1L139.65,92.6L140.14,91.1L140.62,89.6L141.09,88.1L141.56,86.6L142.02,85.1L142.5,83.55L143,81.9L143.5,80.22L143.98,78.6L144.41,77.1L144.84,75.6L145.26,74.1L145.67,72.6L146.08,71.1L146.5,69.5L146.99,67.6L147.37,66.1L147.75,64.6L148.12,63.1L148.5,61.52L148.96,59.6L149.31,58.1L149.66,56.6L150.01,55.1L150.48,53.1L150.84,51.6L151.2,50.1L151.57,48.6L152,46.87L152.45,45.1L152.85,43.6L153.25,42.1L153.67,40.6L154.09,39.1L154.53,37.6L155,36.03L155.5,34.4L156,32.81L156.5,31.25L157,29.72L157.5,28.23L158,26.76L158.5,25.31L159,23.89L159.5,22.48L160,21.09L160.55,19.6L161.1,18.1L161.66,16.6L162.23,15.1L162.8,13.6L163.37,12.1M147.41,118.1L147.9,116.6L148.39,115.1L148.88,113.6L149.37,112.1L149.85,110.6L150.34,109.1L150.83,107.6L151.31,106.1L151.8,104.6L152.28,103.1L152.76,101.6L153.24,100.1L153.72,98.6L154.2,97.1L154.67,95.6L155.15,94.1L155.62,92.6L156.09,91.1L156.55,89.6L157.02,88.1L157.5,86.52L158,84.87L158.5,83.21L158.98,81.6L159.43,80.1L159.87,78.6L160.3,77.1L160.74,75.6L161.17,74.1L161.59,72.6L162.01,71.1L162.5,69.34L162.98,67.6L163.38,66.1L163.79,64.6L164.19,63.1L164.59,61.6L165,60.07L165.5,58.18L165.92,56.6L166.32,55.1L166.72,53.6L167.12,52.1L167.52,50.6L168,48.85L168.48,47.1L168.9,45.6L169.33,44.1L169.76,42.6L170.2,41.1L170.65,39.6L171.11,38.1L171.57,36.6L172.04,35.1L172.52,33.6L173,32.1L173.5,30.6L174,29.1L174.51,27.6L175.03,26.1L175.55,24.6L176.08,23.1L176.62,21.6L177.16,20.1L177.71,18.6L178.27,17.1L178.83,15.6L179.4,14.1L179.98,12.6L180.17,12.1M163.84,118.1L164.3,116.6L164.77,115.1L165.24,113.6L165.71,112.1L166.18,110.6L166.64,109.1L167.11,107.6L167.58,106.1L168.04,104.6L168.51,103.1L169,101.52L169.5,99.91L170,98.29L170.5,96.67L170.98,95.1L171.44,93.6L171.9,92.1L172.36,90.6L172.81,89.1L173.27,87.6L173.72,86.1L174.17,84.6L174.62,83.1L175.07,81.6L175.51,80.1L176,78.44L176.5,76.73L176.98,75.1L177.41,73.6L177.84,72.1L178.28,70.6L178.71,69.1L179.14,67.6L179.56,66.1L180,64.56L180.5,62.8L180.98,61.1L181.41,59.6L181.83,58.1L182.26,56.6L182.69,55.1L183.12,53.6L183.55,52.1L184,50.56L184.5,48.85L185,47.16L185.47,45.6L185.92,44.1L186.38,42.6L186.84,41.1L187.31,39.6L187.78,38.1L188.26,36.6L188.75,35.1L189.24,33.6L189.74,32.1L190.25,30.6L190.76,29.1L191.28,27.6L191.8,26.1L192.33,24.6L192.87,23.1L193.41,21.6L193.96,20.1L194.5,18.63L195,17.29L195.5,15.97L196.02,14.6L196.59,13.1L196.98,12.1M180.37,118.1L180.82,116.6L181.27,115.1L181.72,113.6L182.17,112.1L182.62,110.6L183.07,109.1L183.52,107.6L184,105.99L184.5,104.32L185,102.66L185.47,101.1L185.92,99.6L186.37,98.1L186.82,96.6L187.27,95.1L187.72,93.6L188.17,92.1L188.62,90.6L189.07,89.1L189.51,87.6L190,85.97L190.5,84.29L191,82.61L191.45,81.1L191.89,79.6L192.34,78.1L192.78,76.6L193.22,75.1L193.66,73.6L194.1,72.1L194.55,70.6L195,69.05L195.5,67.35L196,65.65L196.46,64.1L196.9,62.6L197.34,61.1L197.79,59.6L198.23,58.1L198.68,56.6L199.13,55.1L199.58,53.6L200.03,52.1L200.5,50.57L201,48.94L201.5,47.32L202,45.72L202.5,44.13L202.99,42.6L203.47,41.1L203.95,39.6L204.44,38.1L204.94,36.6L205.44,35.1L205.95,33.6L206.46,32.1L206.98,30.6L207.5,29.1L208,27.67L208.5,26.27L209,24.87L209.5,23.49L210.01,22.1L210.56,20.6L211.12,19.1L211.69,17.6L212.26,16.1L212.83,14.6L213.41,13.1L213.8,12.1M197,118.1L197.5,116.35L198,114.61L198.43,113.1L198.87,111.6L199.3,110.1L199.73,108.6L200.17,107.1L200.61,105.6L201.04,104.1L201.5,102.53L202,100.82L202.5,99.11L202.94,97.6L203.38,96.1L203.82,94.6L204.26,93.1L204.7,91.6L205.15,90.1L205.59,88.6L206.03,87.1L206.5,85.51L207,83.81L207.5,82.12L207.95,80.6L208.39,79.1L208.84,77.6L209.28,76.1L209.73,74.6L210.18,73.1L210.62,71.6L211.07,70.1L211.52,68.6L212,67L212.5,65.34L213,63.68L213.48,62.1L213.93,60.6L214.39,59.1L214.85,57.6L215.31,56.1L215.78,54.6L216.25,53.1L216.72,51.6L217.19,50.1L217.67,48.6L218.15,47.1L218.63,45.6L219.12,44.1L219.61,42.6L220.1,41.1L220.6,39.6L221.11,38.1L221.62,36.6L222.13,35.1L222.65,33.6L223.17,32.1L223.7,30.6L224.23,29.1L224.77,27.6L225.31,26.1L225.86,24.6L226.42,23.1L226.97,21.6L227.5,20.2L228,18.88L228.5,17.57L229.07,16.1L229.65,14.6L230.24,13.1L230.63,12.1M213.71,118.1L214.12,116.6L214.54,115.1L215,113.42L215.5,111.62L215.92,110.1L216.34,108.6L216.76,107.1L217.19,105.6L217.61,104.1L218.03,102.6L218.5,100.96L219,99.2L219.46,97.6L219.89,96.1L220.32,94.6L220.75,93.1L221.19,91.6L221.62,90.1L222.06,88.6L222.5,87.08L223,85.37L223.5,83.67L223.96,82.1L224.4,80.6L224.85,79.1L225.29,77.6L225.74,76.1L226.18,74.6L226.63,73.1L227.08,71.6L227.54,70.1L228,68.57L228.5,66.92L229,65.28L229.5,63.65L229.98,62.1L230.44,60.6L230.91,59.1L231.38,57.6L231.85,56.1L232.33,54.6L232.81,53.1L233.29,51.6L233.77,50.1L234.26,48.6L234.75,47.1L235.25,45.6L235.75,44.1L236.25,42.6L236.76,41.1L237.27,39.6L237.78,38.1L238.3,36.6L238.83,35.1L239.35,33.6L239.89,32.1L240.43,30.6L240.97,29.1L241.5,27.65L242,26.29L242.5,24.94L243,23.6L243.57,22.1L244.14,20.6L244.71,19.1L245.29,17.6L245.88,16.1L246.47,14.6L247,13.25L247.46,12.1M230.49,118.1L230.89,116.6L231.28,115.1L231.68,113.6L232.08,112.1L232.5,110.54L233,108.69L233.43,107.1L233.84,105.6L234.25,104.1L234.67,102.6L235.08,101.1L235.5,99.59L236,97.8L236.48,96.1L236.9,94.6L237.32,93.1L237.75,91.6L238.18,90.1L238.61,88.6L239.04,87.1L239.5,85.51L240,83.79L240.49,82.1L240.93,80.6L241.37,79.1L241.82,77.6L242.26,76.1L242.71,74.6L243.16,73.1L243.61,71.6L244.07,70.1L244.53,68.6L245,67.05L245.5,65.43L246,63.81L246.5,62.21L247,60.61L247.48,59.1L247.95,57.6L248.43,56.1L248.92,54.6L249,54.34M67.1,118.1L67.73,116.6L68.36,115.1L68.98,113.6L69.5,112.36L70.03,111.1L70.65,109.6L71.28,108.1L71.9,106.6L72.5,105.15L73,103.95L73.56,102.6L74.18,101.1L74.8,99.6L75.41,98.1L76,96.68L76.5,95.46L77.06,94.1L77.67,92.6L78.28,91.1L78.88,89.6L79.49,88.1L80,86.82L80.5,85.57L81.08,84.1L81.67,82.6L82.26,81.1L82.84,79.6L83.41,78.1L83.98,76.6L84.5,75.18L85,73.8L85.5,72.38L86,70.9L86.5,69.35L87,67.69L87.42,66.1L87.95,64.6L88.4,63.1L88.5,62.51M247.33,118.1L247.71,116.6L248.09,115.1L248.5,113.5L248.99,111.6L249,111.56"/>
<linearGradient id="gM" gradientUnits="userSpaceOnUse" x1="95" y1="0" x2="175" y2="0"><stop offset="0" stop-color="#fff"/><stop offset="1" stop-color="#000"/></linearGradient>
<mask id="mL" maskUnits="userSpaceOnUse" x="0" y="0" width="260" height="130"><rect x="0" y="0" width="260" height="130" fill="url(#gM)"/></mask>
<g id="aimg" fill="none" stroke-linecap="butt"><rect x="11" y="15.1" width="234.6" height="99.7" fill="#444e80" stroke="none"/><use href="#pC" stroke="#5a4458" stroke-width="3.6"/><use href="#pB" stroke="url(#gB)" stroke-width="5.2"/><use href="#pA" stroke="url(#gA)" stroke-width="6"/><g mask="url(#mL)"><rect x="11" y="15.1" width="234.6" height="99.7" fill="#444e80" stroke="none"/><use href="#pC" stroke="#5a4458" stroke-width="3.8"/><use href="#pB" stroke="url(#gB)" stroke-width="3.9"/><use href="#pA" stroke="url(#gA)" stroke-width="5.3"/></g></g>
<clipPath id="cb"><rect x="273.5" y="20.6" width="159.5" height="89.4"/></clipPath>
<clipPath id="cc"><rect x="455.3" y="19.2" width="221.9" height="92.3"/></clipPath>
<filter id="blc" filterUnits="userSpaceOnUse" x="440" y="0" width="245" height="130"><feGaussianBlur stdDeviation="1.9"/></filter>
<clipPath id="cd"><rect x="48.6" y="152.2" width="236.9" height="91.1"/></clipPath>
<clipPath id="ce"><rect x="377.8" y="153.6" width="229.7" height="89.3"/></clipPath>
<clipPath id="cf"><rect x="38.2" y="309.5" width="122.3" height="95.9"/></clipPath>
<clipPath id="cg1"><rect x="198.3" y="307.5" width="135" height="44.5"/></clipPath>
<clipPath id="cg2"><rect x="198.3" y="361.2" width="135" height="44.1"/></clipPath>
<clipPath id="ci1"><rect x="525.1" y="308.1" width="133.5" height="44.1"/></clipPath>
<clipPath id="ci2"><rect x="525.1" y="361.4" width="133.5" height="43.7"/></clipPath></defs>
<rect width="685" height="427" fill="#fff"/>
<g opacity="0.999">
<path d="M12.5,11V112.8H247" fill="none" stroke="#000" stroke-width="1.6"/>
<path d="M12.5,8L14.8,13.2L10.2,13.2z" fill="#000"/>
<path d="M250.5,112.8L245.3,115.1L245.3,110.5z" fill="#000"/>
<g clip-path="url(#ca)">
<use href="#aimg" filter="url(#bla)"/>
<use href="#aimg" opacity="0.3"/>
<rect x="14" y="18.1" width="228.6" height="0.8" fill="#fff" opacity="0.3"/>
</g>
<path d="M222.93,24.33L234.67,36.07M222.93,36.07L234.67,24.33" stroke="#000" stroke-width="1.6" fill="none"/>
<path d="M236.08,37.48L231.2,35.86L234.46,32.6z" fill="#000"/>
<path d="M221.52,37.48L223.14,32.6L226.4,35.86z" fill="#000"/>
<path d="M221.52,22.92L226.4,24.54L223.14,27.8z" fill="#000"/>
<path d="M236.08,22.92L234.46,27.8L231.2,24.54z" fill="#000"/>
<path d="M228.8,23.7V36.7" stroke="#17a04e" stroke-width="2.1" fill="none"/>
<path d="M228.8,20.8L230.9,25.2L226.7,25.2z" fill="#17a04e"/>
<path d="M228.8,39.6L226.7,35.2L230.9,35.2z" fill="#17a04e"/>
<path d="M198.5,54V89" stroke="#fff" stroke-width="1.0" fill="none"/>
<path d="M198.5,50.8L200.2,55.2L196.8,55.2z" fill="#fff"/>
<path d="M198.5,92L196.8,87.6L200.2,87.6z" fill="#fff"/>
<text x="204.3" y="74.8" font-size="7.6" fill="#d4dadc" stroke="#d4dadc" stroke-width="0.2" text-anchor="middle"><tspan font-style="italic">L</tspan></text>
<path d="M186,92.7H195" stroke="#f7e600" stroke-width="1.2" fill="none"/>
<path d="M182.8,92.7L187.4,90.7L187.4,94.7z" fill="#f7e600"/>
<path d="M198.2,92.7L193.6,94.7L193.6,90.7z" fill="#f7e600"/>
<text x="193.2" y="101.6" font-size="7.6" fill="#efdc00" stroke="#efdc00" stroke-width="0.2" text-anchor="middle"><tspan font-style="italic">T</tspan></text>
<rect x="235.8" y="89.9" width="3.3" height="14.8" fill="#fff"/>
<rect x="224.9" y="103.8" width="8.8" height="2.7" fill="#f7e600"/>
<text x="8.6" y="64.5" font-size="8.5" fill="#2b2b2b" stroke="#2b2b2b" stroke-width="0.2" text-anchor="middle" letter-spacing="-0.02" transform="rotate(-90 8.6 64.5)">Space</text>
<text x="128.2" y="125.7" font-size="8.5" fill="#2b2b2b" stroke="#2b2b2b" stroke-width="0.2" text-anchor="middle" letter-spacing="0.06">Time</text>
<rect x="273.5" y="20.6" width="159.5" height="89.4" fill="#fff" stroke="#8a8a8a" stroke-width="0.7"/>
<path d="M273.5,96.1h1.8M273.5,68.7h1.8M273.5,41.3h1.8M277.55,110v-1.8M353.5,110v-1.8M429.45,110v-1.8" stroke="#666" stroke-width="0.6" fill="none"/>
<g clip-path="url(#cb)">
<path d="M275.27,103.91L277.92,103.91L280.58,103.9L283.23,103.9L285.88,103.89L288.53,103.89L291.18,103.88L293.83,103.87L296.49,103.86L299.14,103.84L301.79,103.82L304.44,103.8L307.09,103.77L309.75,103.73L312.4,103.68L315.05,103.63L317.7,103.56L320.35,103.48L323,103.39L325.66,103.27L328.31,103.14L330.96,102.97L333.61,102.78L336.26,102.56L338.92,102.31L341.57,102.03L344.22,101.72L346.87,101.38L349.52,101.01L352.17,100.63L354.83,100.24L357.48,99.84L360.13,99.46L362.78,99.09L365.43,98.75L368.08,98.43L370.74,98.14L373.39,97.89L376.04,97.66L378.69,97.47L381.34,97.3L384,97.16L386.65,97.04L389.3,96.94L391.95,96.86L394.6,96.79L397.25,96.74L399.91,96.69L402.56,96.66L405.21,96.62L407.86,96.6L410.51,96.58L413.17,96.56L415.82,96.55L418.47,96.54L421.12,96.53L423.77,96.52L426.42,96.52L429.08,96.51L431.73,96.51M275.27,89.96L277.92,89.93L280.58,89.9L283.23,89.86L285.88,89.82L288.53,89.78L291.18,89.73L293.83,89.67L296.49,89.6L299.14,89.52L301.79,89.43L304.44,89.34L307.09,89.23L309.75,89.11L312.4,88.97L315.05,88.82L317.7,88.66L320.35,88.48L323,88.29L325.66,88.08L328.31,87.87L330.96,87.64L333.61,87.39L336.26,87.15L338.92,86.89L341.57,86.63L344.22,86.38L346.87,86.12L349.52,85.87L352.17,85.62L354.83,85.39L357.48,85.17L360.13,84.95L362.78,84.76L365.43,84.57L368.08,84.4L370.74,84.25L373.39,84.11L376.04,83.98L378.69,83.87L381.34,83.77L384,83.68L386.65,83.59L389.3,83.52L391.95,83.46L394.6,83.4L397.25,83.36L399.91,83.31L402.56,83.28L405.21,83.24L407.86,83.21L410.51,83.19L413.17,83.17L415.82,83.15L418.47,83.13L421.12,83.12L423.77,83.11L426.42,83.1L429.08,83.09L431.73,83.08M275.27,75.74L277.92,75.68L280.58,75.62L283.23,75.55L285.88,75.48L288.53,75.4L291.18,75.32L293.83,75.23L296.49,75.14L299.14,75.04L301.79,74.93L304.44,74.82L307.09,74.7L309.75,74.57L312.4,74.44L315.05,74.3L317.7,74.16L320.35,74.01L323,73.86L325.66,73.7L328.31,73.54L330.96,73.37L333.61,73.21L336.26,73.03L338.92,72.86L341.57,72.69L344.22,72.51L346.87,72.34L349.52,72.17L352.17,72L354.83,71.83L357.48,71.67L360.13,71.51L362.78,71.35L365.43,71.2L368.08,71.06L370.74,70.92L373.39,70.78L376.04,70.66L378.69,70.54L381.34,70.42L384,70.31L386.65,70.21L389.3,70.11L391.95,70.02L394.6,69.94L397.25,69.86L399.91,69.78L402.56,69.71L405.21,69.65L407.86,69.59L410.51,69.54L413.17,69.49L415.82,69.44L418.47,69.39L421.12,69.35L423.77,69.32L426.42,69.28L429.08,69.25L431.73,69.22M275.27,61.51L277.92,61.43L280.58,61.35L283.23,61.26L285.88,61.17L288.53,61.08L291.18,60.99L293.83,60.89L296.49,60.78L299.14,60.68L301.79,60.57L304.44,60.45L307.09,60.33L309.75,60.21L312.4,60.09L315.05,59.96L317.7,59.83L320.35,59.7L323,59.57L325.66,59.43L328.31,59.29L330.96,59.15L333.61,59.02L336.26,58.87L338.92,58.73L341.57,58.59L344.22,58.45L346.87,58.31L349.52,58.18L352.17,58.04L354.83,57.9L357.48,57.77L360.13,57.64L362.78,57.51L365.43,57.39L368.08,57.26L370.74,57.15L373.39,57.03L376.04,56.92L378.69,56.81L381.34,56.7L384,56.6L386.65,56.5L389.3,56.41L391.95,56.32L394.6,56.23L397.25,56.15L399.91,56.07L402.56,55.99L405.21,55.92L407.86,55.85L410.51,55.79L413.17,55.73L415.82,55.67L418.47,55.61L421.12,55.56L423.77,55.51L426.42,55.46L429.08,55.42L431.73,55.38M275.27,46.98L277.92,46.91L280.58,46.83L283.23,46.76L285.88,46.68L288.53,46.6L291.18,46.51L293.83,46.43L296.49,46.34L299.14,46.25L301.79,46.15L304.44,46.06L307.09,45.96L309.75,45.86L312.4,45.76L315.05,45.66L317.7,45.56L320.35,45.45L323,45.35L325.66,45.24L328.31,45.13L330.96,45.02L333.61,44.91L336.26,44.8L338.92,44.69L341.57,44.58L344.22,44.48L346.87,44.37L349.52,44.26L352.17,44.15L354.83,44.04L357.48,43.94L360.13,43.83L362.78,43.73L365.43,43.63L368.08,43.53L370.74,43.43L373.39,43.34L376.04,43.24L378.69,43.15L381.34,43.06L384,42.97L386.65,42.89L389.3,42.81L391.95,42.73L394.6,42.65L397.25,42.57L399.91,42.5L402.56,42.43L405.21,42.36L407.86,42.3L410.51,42.23L413.17,42.17L415.82,42.11L418.47,42.06L421.12,42L423.77,41.95L426.42,41.9L429.08,41.85L431.73,41.81M275.27,32.59L277.92,32.52L280.58,32.46L283.23,32.39L285.88,32.32L288.53,32.24L291.18,32.17L293.83,32.09L296.49,32.02L299.14,31.94L301.79,31.86L304.44,31.78L307.09,31.7L309.75,31.61L312.4,31.53L315.05,31.44L317.7,31.36L320.35,31.27L323,31.18L325.66,31.09L328.31,31L330.96,30.91L333.61,30.82L336.26,30.73L338.92,30.64L341.57,30.55L344.22,30.46L346.87,30.37L349.52,30.28L352.17,30.19L354.83,30.11L357.48,30.02L360.13,29.93L362.78,29.84L365.43,29.76L368.08,29.67L370.74,29.59L373.39,29.51L376.04,29.43L378.69,29.35L381.34,29.27L384,29.2L386.65,29.12L389.3,29.05L391.95,28.98L394.6,28.91L397.25,28.84L399.91,28.77L402.56,28.71L405.21,28.64L407.86,28.58L410.51,28.52L413.17,28.47L415.82,28.41L418.47,28.36L421.12,28.3L423.77,28.25L426.42,28.2L429.08,28.15L431.73,28.11" fill="none" stroke="#f20d0d" stroke-width="1.9"/>
</g>
<g fill="#1670c2"><circle cx="277.55" cy="105.28" r="2.0"/><circle cx="285.99" cy="105.26" r="2.0"/><circle cx="294.43" cy="105.22" r="2.0"/><circle cx="302.87" cy="105.16" r="2.0"/><circle cx="311.31" cy="105.02" r="2.0"/><circle cx="319.74" cy="104.77" r="2.0"/><circle cx="328.18" cy="104.29" r="2.0"/><circle cx="336.62" cy="103.47" r="2.0"/><circle cx="345.06" cy="102.18" r="2.0"/><circle cx="353.5" cy="100.48" r="2.0"/><circle cx="361.94" cy="98.63" r="2.0"/><circle cx="370.38" cy="97.04" r="2.0"/><circle cx="378.82" cy="95.94" r="2.0"/><circle cx="387.26" cy="95.29" r="2.0"/><circle cx="395.69" cy="94.93" r="2.0"/><circle cx="404.13" cy="94.75" r="2.0"/><circle cx="412.57" cy="94.66" r="2.0"/><circle cx="421.01" cy="94.62" r="2.0"/><circle cx="429.45" cy="94.6" r="2.0"/><circle cx="277.55" cy="90.62" r="2.0"/><circle cx="285.99" cy="90.5" r="2.0"/><circle cx="294.43" cy="90.32" r="2.0"/><circle cx="302.87" cy="90.04" r="2.0"/><circle cx="311.31" cy="89.62" r="2.0"/><circle cx="319.74" cy="89.02" r="2.0"/><circle cx="328.18" cy="88.21" r="2.0"/><circle cx="336.62" cy="87.17" r="2.0"/><circle cx="345.06" cy="85.98" r="2.0"/><circle cx="353.5" cy="84.8" r="2.0"/><circle cx="361.94" cy="83.81" r="2.0"/><circle cx="370.38" cy="83.07" r="2.0"/><circle cx="378.82" cy="82.57" r="2.0"/><circle cx="387.26" cy="82.24" r="2.0"/><circle cx="395.69" cy="82.03" r="2.0"/><circle cx="404.13" cy="81.89" r="2.0"/><circle cx="412.57" cy="81.81" r="2.0"/><circle cx="421.01" cy="81.75" r="2.0"/><circle cx="429.45" cy="81.72" r="2.0"/><circle cx="277.55" cy="76.23" r="2.0"/><circle cx="285.99" cy="76.01" r="2.0"/><circle cx="294.43" cy="75.74" r="2.0"/><circle cx="302.87" cy="75.4" r="2.0"/><circle cx="311.31" cy="74.97" r="2.0"/><circle cx="319.74" cy="74.46" r="2.0"/><circle cx="328.18" cy="73.83" r="2.0"/><circle cx="336.62" cy="73.1" r="2.0"/><circle cx="345.06" cy="72.31" r="2.0"/><circle cx="353.5" cy="71.51" r="2.0"/><circle cx="361.94" cy="70.8" r="2.0"/><circle cx="370.38" cy="70.22" r="2.0"/><circle cx="378.82" cy="69.76" r="2.0"/><circle cx="387.26" cy="69.39" r="2.0"/><circle cx="395.69" cy="69.09" r="2.0"/><circle cx="404.13" cy="68.86" r="2.0"/><circle cx="412.57" cy="68.68" r="2.0"/><circle cx="421.01" cy="68.53" r="2.0"/><circle cx="429.45" cy="68.43" r="2.0"/><circle cx="277.55" cy="61.85" r="2.0"/><circle cx="285.99" cy="61.57" r="2.0"/><circle cx="294.43" cy="61.26" r="2.0"/><circle cx="302.87" cy="60.89" r="2.0"/><circle cx="311.31" cy="60.48" r="2.0"/><circle cx="319.74" cy="60" r="2.0"/><circle cx="328.18" cy="59.46" r="2.0"/><circle cx="336.62" cy="58.86" r="2.0"/><circle cx="345.06" cy="58.23" r="2.0"/><circle cx="353.5" cy="57.64" r="2.0"/><circle cx="361.94" cy="57.11" r="2.0"/><circle cx="370.38" cy="56.66" r="2.0"/><circle cx="378.82" cy="56.28" r="2.0"/><circle cx="387.26" cy="55.94" r="2.0"/><circle cx="395.69" cy="55.65" r="2.0"/><circle cx="404.13" cy="55.4" r="2.0"/><circle cx="412.57" cy="55.19" r="2.0"/><circle cx="421.01" cy="55.01" r="2.0"/><circle cx="429.45" cy="54.86" r="2.0"/><circle cx="277.55" cy="47.19" r="2.0"/><circle cx="285.99" cy="46.94" r="2.0"/><circle cx="294.43" cy="46.67" r="2.0"/><circle cx="302.87" cy="46.36" r="2.0"/><circle cx="311.31" cy="46.02" r="2.0"/><circle cx="319.74" cy="45.65" r="2.0"/><circle cx="328.18" cy="45.22" r="2.0"/><circle cx="336.62" cy="44.76" r="2.0"/><circle cx="345.06" cy="44.29" r="2.0"/><circle cx="353.5" cy="43.84" r="2.0"/><circle cx="361.94" cy="43.43" r="2.0"/><circle cx="370.38" cy="43.07" r="2.0"/><circle cx="378.82" cy="42.75" r="2.0"/><circle cx="387.26" cy="42.47" r="2.0"/><circle cx="395.69" cy="42.21" r="2.0"/><circle cx="404.13" cy="41.98" r="2.0"/><circle cx="412.57" cy="41.77" r="2.0"/><circle cx="421.01" cy="41.59" r="2.0"/><circle cx="429.45" cy="41.44" r="2.0"/><circle cx="277.55" cy="32.8" r="2.0"/><circle cx="285.99" cy="32.58" r="2.0"/><circle cx="294.43" cy="32.34" r="2.0"/><circle cx="302.87" cy="32.07" r="2.0"/><circle cx="311.31" cy="31.78" r="2.0"/><circle cx="319.74" cy="31.46" r="2.0"/><circle cx="328.18" cy="31.09" r="2.0"/><circle cx="336.62" cy="30.69" r="2.0"/><circle cx="345.06" cy="30.28" r="2.0"/><circle cx="353.5" cy="29.89" r="2.0"/><circle cx="361.94" cy="29.54" r="2.0"/><circle cx="370.38" cy="29.23" r="2.0"/><circle cx="378.82" cy="28.95" r="2.0"/><circle cx="387.26" cy="28.7" r="2.0"/><circle cx="395.69" cy="28.47" r="2.0"/><circle cx="404.13" cy="28.26" r="2.0"/><circle cx="412.57" cy="28.07" r="2.0"/><circle cx="421.01" cy="27.89" r="2.0"/><circle cx="429.45" cy="27.74" r="2.0"/></g>
<text x="270.2" y="98.8" font-size="7.5" fill="#2b2b2b" stroke="#2b2b2b" stroke-width="0.2" text-anchor="end">2</text>
<text x="270.2" y="71.4" font-size="7.5" fill="#2b2b2b" stroke="#2b2b2b" stroke-width="0.2" text-anchor="end">4</text>
<text x="270.2" y="44" font-size="7.5" fill="#2b2b2b" stroke="#2b2b2b" stroke-width="0.2" text-anchor="end">6</text>
<text x="276.35" y="119.1" font-size="7.5" fill="#2b2b2b" stroke="#2b2b2b" stroke-width="0.2" text-anchor="middle">−1</text>
<text x="353.5" y="119.1" font-size="7.5" fill="#2b2b2b" stroke="#2b2b2b" stroke-width="0.2" text-anchor="middle">0</text>
<text x="429.45" y="119.1" font-size="7.5" fill="#2b2b2b" stroke="#2b2b2b" stroke-width="0.2" text-anchor="middle">1</text>
<text x="261.6" y="66.3" font-size="9.2" fill="#2b2b2b" stroke="#2b2b2b" stroke-width="0.2" text-anchor="middle" transform="rotate(-90 261.6 66.3)"><tspan font-style="italic">t</tspan>/<tspan font-style="italic">T</tspan></text>
<text x="353.2" y="130.4" font-size="8.6" fill="#2b2b2b" stroke="#2b2b2b" stroke-width="0.2" text-anchor="middle" letter-spacing="0.08">(<tspan font-style="italic">x</tspan> – <tspan font-style="italic">Lt</tspan>/<tspan font-style="italic">T</tspan>)/<tspan font-style="italic">L</tspan></text>
<path d="M453.8,13.5V113.0H681" fill="none" stroke="#000" stroke-width="1.6"/>
<path d="M453.8,10.5L456.1,15.7L451.5,15.7z" fill="#000"/>
<path d="M684.6,113L679.4,115.3L679.4,110.7z" fill="#000"/>
<g clip-path="url(#cc)">
<rect x="454.3" y="18.2" width="223.9" height="94.3" fill="#6a2920"/>
<g filter="url(#blc)" fill="none">
<path d="M444.51,14.2L443.33,22.07L442.1,29.94L440.77,37.81L439.25,45.68L437.43,53.55L435.48,61.42L433.6,69.28L431.7,77.15L429.88,85.02L428.19,92.89L426.61,100.76L425.07,108.63L423.58,116.5M461.98,14.2L460.84,22.07L459.64,29.94L458.34,37.81L456.87,45.68L455.09,53.55L453.2,61.42L451.37,69.28L449.52,77.15L447.74,85.02L446.11,92.89L444.57,100.76L443.07,108.63L441.62,116.5M480.57,14.2L479.32,22.07L478.02,29.94L476.62,37.81L475.02,45.68L473.1,53.55L471.05,61.42L469.06,69.28L467.07,77.15L465.14,85.02L463.37,92.89L461.7,100.76L460.08,108.63L458.5,116.5M497.97,14.2L496.84,22.07L495.66,29.94L494.39,37.81L492.93,45.68L491.19,53.55L489.33,61.42L487.53,69.28L485.71,77.15L483.96,85.02L482.36,92.89L480.84,100.76L479.37,108.63L477.94,116.5M515.47,14.2L514.46,22.07L513.39,29.94L512.24,37.81L510.92,45.68L509.35,53.55L507.67,61.42L506.04,69.28L504.4,77.15L502.82,85.02L501.36,92.89L499.99,100.76L498.66,108.63L497.37,116.5M532.89,14.2L532.09,22.07L531.24,29.94L530.34,37.81L529.31,45.68L528.07,53.55L526.74,61.42L525.46,69.28L524.17,77.15L522.92,85.02L521.77,92.89L520.7,100.76L519.65,108.63L518.63,116.5M550.71,14.2L550,22.07L549.25,29.94L548.45,37.81L547.53,45.68L546.42,53.55L545.25,61.42L544.11,69.28L542.96,77.15L541.85,85.02L540.83,92.89L539.87,100.76L538.94,108.63L538.04,116.5M569.59,14.2L568.9,22.07L568.18,29.94L567.41,37.81L566.52,45.68L565.46,53.55L564.32,61.42L563.22,69.28L562.11,77.15L561.05,85.02L560.06,92.89L559.14,100.76L558.24,108.63L557.37,116.5M591.3,14.2L590.37,22.07L589.39,29.94L588.35,37.81L587.15,45.68L585.71,53.55L584.17,61.42L582.69,69.28L581.19,77.15L579.75,85.02L578.42,92.89L577.17,100.76L575.96,108.63L574.78,116.5M609.8,14.2L608.87,22.07L607.89,29.94L606.85,37.81L605.65,45.68L604.21,53.55L602.67,61.42L601.19,69.28L599.69,77.15L598.25,85.02L596.92,92.89L595.67,100.76L594.46,108.63L593.28,116.5M627.73,14.2L626.88,22.07L625.99,29.94L625.04,37.81L623.95,45.68L622.64,53.55L621.24,61.42L619.88,69.28L618.52,77.15L617.21,85.02L616,92.89L614.86,100.76L613.75,108.63L612.68,116.5M645.13,14.2L644.4,22.07L643.63,29.94L642.8,37.81L641.86,45.68L640.73,53.55L639.52,61.42L638.35,69.28L637.17,77.15L636.03,85.02L634.98,92.89L634,100.76L633.04,108.63L632.12,116.5M661.04,14.2L660.41,22.07L659.75,29.94L659.04,37.81L658.23,45.68L657.25,53.55L656.21,61.42L655.2,69.28L654.19,77.15L653.21,85.02L652.31,92.89L651.46,100.76L650.64,108.63L649.84,116.5M675.38,14.2L674.94,22.07L674.47,29.94L673.97,37.81L673.39,45.68L672.7,53.55L671.97,61.42L671.25,69.28L670.54,77.15L669.84,85.02L669.21,92.89L668.61,100.76L668.03,108.63L667.46,116.5M691.27,14.2L690.96,22.07L690.62,29.94L690.26,37.81L689.85,45.68L689.36,53.55L688.83,61.42L688.32,69.28L687.81,77.15L687.32,85.02L686.86,92.89L686.43,100.76L686.02,108.63L685.62,116.5" stroke="#ee4a29" stroke-width="7.6"/>
</g></g>
<path d="M657.9,32.3H673.9 M665.9,23.8V40.8" stroke="#000" stroke-width="1.4" fill="none"/>
<path d="M676.9,32.3L672.1,34.5L672.1,30.1z" fill="#000"/>
<path d="M654.9,32.3L659.7,30.1L659.7,34.5z" fill="#000"/>
<path d="M665.9,43.9L663.7,39.1L668.1,39.1z" fill="#000"/>
<path d="M665.9,20.7L668.1,25.5L663.7,25.5z" fill="#000"/>
<rect x="672.0" y="78.4" width="3.1" height="19.2" fill="#fff"/>
<rect x="659.2" y="103.0" width="12.8" height="2.6" fill="#f7e600"/>
<text x="450.2" y="64.5" font-size="8.5" fill="#2b2b2b" stroke="#2b2b2b" stroke-width="0.2" text-anchor="middle" letter-spacing="-0.02" transform="rotate(-90 450.2 64.5)">Space</text>
<text x="566.5" y="122.6" font-size="8.5" fill="#2b2b2b" stroke="#2b2b2b" stroke-width="0.2" text-anchor="middle" letter-spacing="0.11">Time</text>
<g clip-path="url(#cd)">
<path d="M52.85,174.56L53.69,182.87L54.37,218.34L54.87,174.92L55.63,173.96L56.59,181.75L56.97,216.24L58.02,175.87L58.74,180.7L59.34,205.24L60,170.11L60.72,217.58L61.44,182.29L62.24,216.95L62.99,181.01L63.74,177.68L64.64,218.9L65.29,178.7L65.95,208.88L66.83,179.33L67.24,204.98L67.95,181.64L68.86,209.16L69.36,183.92L70.08,205.56L71,178.66L71.71,182.99L72.62,174.78L73.23,172.04L73.91,209.36L74.64,177.91L75.26,212.19L75.9,188.23L76.7,205.79L77.63,175.26L78.16,211.62L78.95,178.56L79.53,190.42L80.59,214.91L81.05,179.1L81.82,217.24L82.8,191.59L83.38,213.11L84.24,186.26L84.88,216.61L85.65,190.59L86.12,210.84L87.03,179.2L87.74,213.53L88.62,212.78L89.14,174.84L89.96,211.76L90.47,190.65L91.33,183.04L92.04,186.73L92.69,206.22L93.69,215.71L94.24,171.59L95.21,219.12L95.78,175.58L96.52,181.95L97.26,219.81L98,172.46L98.52,221.75L99.36,170.94L100.01,219.25L100.8,182.97L101.41,174.25L102.48,218.7L102.91,211.44L103.82,174.94L104.4,224.11L105.36,209.51L106,177.47L106.52,221.09L107.53,182.18L108.3,211.04L109.01,182.83L109.6,215.46L110.16,217.1L110.91,178.71L111.93,205.78L112.51,216.32L113.09,174.55L114.1,204.82L114.73,183.62L115.43,184.41L116.08,218.12L116.82,219.99L117.48,185.89L118.13,180.61L119.19,207.93L119.75,175.76L120.51,167.16L121.15,205.38L122.05,180.92L122.49,216.59L123.36,217.27L123.95,166.54L124.71,214.61L125.78,180.97L126.38,211.03L127.02,168.42L127.78,217.05L128.65,184.71L129.17,219.64L129.99,210.93L130.76,173.2L131.36,204.59L132.15,172.28L132.98,206.88L133.76,179.68L134.19,214.71L135.23,178.6L135.58,207.81L136.61,207.53L137.36,181.2L137.82,206.16L138.66,181.62L139.55,208.22L139.95,177.78L140.93,212.66L141.72,178.54L142.34,209.99L143.15,205.43L143.68,182.09L144.39,219.82L145.19,184.84L145.84,213.96L146.64,175.84L147.61,180.89L148.18,221.13L148.82,171.29L149.52,181.95L150.52,218.18L151.04,184.17L151.99,206.67L152.53,180.66L153.26,214.79L154.14,172.56L154.8,206.75L155.47,172.83L156.13,213.37L157.04,184.17L157.58,220.15L158.51,214.4L158.9,186.84L159.77,174.78L160.54,205.07L161.44,186.56L161.89,209.16L162.84,171.71L163.51,203.25L164.26,216.25L164.95,178.45L165.81,202.43L166.29,180.53L167.04,209.99L167.69,179.49L168.36,213.73L169.15,176.25L170.16,220.22L170.86,185.19L171.29,218.14L172.22,212.73L172.9,174.47L173.67,219.45L174.42,172.87L175.01,209.86L176,213.92L176.53,221.22L177.32,171.18L178.05,212.89L178.6,221.75L179.28,179.82L180.15,210.42L181.02,177.22L181.76,179.71L182.46,211.26L182.94,179.96L183.99,210.96L184.67,184.91L185.43,185.93L186.01,173.89L186.9,214.35L187.28,176.56L188,213.86L188.73,184.42L189.55,205.93L190.27,183.9L190.98,208.44L191.86,172.82L192.37,208.44L193.32,181.53L193.88,214.42L194.81,207.49L195.28,184.99L196.12,216.14L197.1,174.87L197.67,210.41L198.5,174.27L199.17,204.91L199.88,178.25L200.44,215.13L201.32,184.77L201.84,210.16L202.87,176.19L203.66,216.88L204.34,207L204.75,176.68L205.59,205.07L206.31,172.02L206.96,207.43L207.89,184.36L208.69,206.32L209.22,172.97L210.17,210.46L210.87,178.21L211.33,224.17L212.32,171.75L213.09,205.87L213.54,214.13L214.42,176.41L215.18,216.29L215.89,182.96L216.42,208.58L217.37,189.95L218.09,203.46L218.89,181.39L219.61,203.46L220.15,185.88L221.03,207.59L221.82,188.83L222.56,200.87L222.99,177.59L223.67,206.57L224.64,186.3L225.2,178.92L226.07,201.09L226.95,184.48L227.45,218L228.12,172.27L228.93,211.69L229.74,184.43L230.25,206.58L231.09,185.76L231.72,206.84L232.66,185.65L233.45,205.64L234,172.01L234.72,205.08L235.52,207.22L236.12,166.95L236.86,177.57L237.62,178.6L238.4,205.23L238.97,167.49L239.97,218.61L240.63,175.7L241.25,217.72L241.88,186.7L242.89,182.52L243.36,176.28L244.09,223.47L244.82,170.66L245.53,219.24L246.58,217.33L247.06,205.3L247.8,223.04L248.74,187.33L249.38,208.88L249.94,177.13L250.76,221.57L251.67,220.93L252.19,180.08L253.06,208.87L253.54,190.19L254.52,216.02L255.27,175.65L256.01,208.63L256.68,176.83L257.29,183.46L257.89,211.25L258.8,179.51L259.63,204.53L260.13,179.81L260.89,208.5L261.72,175.59L262.53,213.17L263.32,218.7L263.74,172.56L264.49,182.12L265.47,207.56L266.13,215.75L266.89,181.58L267.73,203.28L268.43,189.22L269.12,214.84L269.82,182.58L270.4,203.21L271.23,181.89L271.77,211.65L272.73,182.03L273.46,172.81L274.17,221.28L274.79,184.78L275.49,208.84L276.23,214.54L276.81,170.35L277.86,218.97L278.47,171.24L279.13,216.55L279.92,208.76L280.72,172.09L281.31,203.21L282.22,174.37L282.98,207.26L283.5,177.96L284.13,218.12L285.1,178.59" fill="none" stroke="#ec0808" stroke-width="0.5" stroke-linejoin="round"/>
<path d="M52.5,163.6L53,161.85L53.5,160.38L54,159.22L54.5,158.41L55,158.05L55.53,158.68L56.07,160.24L56.6,162.25L57.14,165.66L57.67,170.81L58.21,177.04L58.74,183.66L59.28,189.99L59.81,195.45L60.34,200.81L60.88,206.23L61.41,211.44L61.95,216.17L62.48,220.15L63.02,223.21L63.55,225.87L64.09,228.16L64.62,230.06L65.16,231.52L65.69,232.69L66.22,233.68L66.76,234.51L67.29,235.19L67.83,235.77L68.36,236.31L68.9,236.79L69.43,237.2L69.97,237.51L70.5,237.7L70.96,237.39L71.42,236.59L71.89,235.46L72.35,234L72.81,231.39L73.27,227.84L73.73,223.74L74.2,219.48L74.66,215.38L75.12,210.98L75.58,206.22L76.04,201.32L76.51,196.48L76.97,191.93L77.43,187.78L77.89,183.68L78.36,179.69L78.82,175.91L79.28,172.47L79.74,169.5L80.2,167.01L80.67,164.73L81.13,162.72L81.59,161.06L82.05,159.79L82.51,158.69L82.98,157.74L83.44,157L83.9,156.55L84.48,157.13L85.06,158.53L85.64,160.84L86.22,165.22L86.8,170.64L87.38,175.96L87.96,181.48L88.53,187.48L89.11,193.64L89.69,199.68L90.27,205.3L90.85,210.31L91.43,215.23L92.01,219.9L92.59,223.9L93.17,226.85L93.75,229.01L94.33,230.84L94.91,232.34L95.49,233.53L96.07,234.44L96.64,235.14L97.22,235.73L97.8,236.32L98.38,237.01L98.96,237.75L99.54,238.51L100.12,239.29L100.7,240.1L101.13,239.79L101.56,238.97L101.99,237.84L102.42,236.36L102.86,233.72L103.29,230.13L103.72,225.99L104.15,221.68L104.58,217.53L105.01,213.08L105.44,208.27L105.87,203.31L106.3,198.42L106.73,193.82L107.17,189.62L107.6,185.49L108.03,181.44L108.46,177.62L108.89,174.15L109.32,171.15L109.75,168.62L110.18,166.32L110.61,164.29L111.04,162.61L111.48,161.33L111.91,160.21L112.34,159.25L112.77,158.5L113.2,158.05L113.76,158.61L114.32,159.96L114.88,162.19L115.43,166.43L115.99,171.66L116.55,176.79L117.11,182.13L117.67,187.92L118.23,193.87L118.79,199.7L119.34,205.14L119.9,209.97L120.46,214.73L121.02,219.24L121.58,223.11L122.14,225.95L122.7,228.04L123.26,229.81L123.81,231.26L124.37,232.41L124.93,233.28L125.49,233.95L126.05,234.53L126.61,235.1L127.17,235.77L127.72,236.48L128.28,237.21L128.84,237.97L129.4,238.75L129.85,238.45L130.3,237.65L130.74,236.54L131.19,235.1L131.64,232.52L132.09,229.02L132.54,224.97L132.99,220.76L133.43,216.72L133.88,212.38L134.33,207.68L134.78,202.84L135.23,198.06L135.68,193.57L136.12,189.47L136.57,185.43L137.02,181.49L137.47,177.76L137.92,174.37L138.37,171.44L138.81,168.97L139.26,166.72L139.71,164.74L140.16,163.1L140.61,161.85L141.06,160.76L141.5,159.82L141.95,159.09L142.4,158.65L142.96,159.27L143.51,160.81L144.07,162.8L144.62,166.16L145.18,171.24L145.73,177.39L146.29,183.92L146.84,190.17L147.4,195.55L147.95,200.84L148.51,206.2L149.06,211.34L149.62,216.01L150.17,219.93L150.73,222.96L151.28,225.57L151.84,227.84L152.39,229.71L152.95,231.15L153.5,232.31L154.06,233.29L154.61,234.11L155.17,234.78L155.72,235.34L156.28,235.87L156.83,236.35L157.39,236.75L157.94,237.06L158.5,237.25L158.96,236.96L159.41,236.2L159.87,235.13L160.32,233.76L160.78,231.29L161.23,227.94L161.69,224.07L162.14,220.04L162.6,216.17L163.05,212.01L163.51,207.52L163.96,202.88L164.42,198.32L164.87,194.02L165.33,190.1L165.78,186.23L166.24,182.45L166.69,178.88L167.15,175.64L167.6,172.84L168.06,170.48L168.51,168.32L168.97,166.43L169.42,164.86L169.88,163.66L170.33,162.62L170.79,161.72L171.24,161.02L171.7,160.6L172.23,161.14L172.77,162.44L173.3,164.58L173.84,168.65L174.37,173.68L174.91,178.61L175.44,183.74L175.98,189.3L176.51,195.02L177.04,200.63L177.58,205.85L178.11,210.5L178.65,215.07L179.18,219.4L179.72,223.12L180.25,225.85L180.79,227.86L181.32,229.56L181.86,230.95L182.39,232.06L182.92,232.89L183.46,233.54L183.99,234.09L184.53,234.64L185.06,235.28L185.6,235.97L186.13,236.67L186.67,237.4L187.2,238.15L187.61,237.83L188.01,237L188.42,235.84L188.83,234.34L189.23,231.66L189.64,228L190.05,223.78L190.46,219.39L190.86,215.17L191.27,210.64L191.68,205.74L192.08,200.69L192.49,195.71L192.9,191.02L193.3,186.75L193.71,182.54L194.12,178.42L194.52,174.53L194.93,170.99L195.34,167.94L195.74,165.36L196.15,163.02L196.56,160.95L196.97,159.24L197.37,157.94L197.78,156.8L198.19,155.82L198.59,155.06L199,154.6L199.6,155.2L200.2,156.64L200.8,159.02L201.4,163.54L202,169.12L202.6,174.6L203.2,180.3L203.8,186.47L204.4,192.82L205,199.04L205.6,204.84L206.2,210L206.8,215.08L207.4,219.88L208,224.01L208.6,227.04L209.2,229.28L209.8,231.16L210.4,232.71L211,233.93L211.6,234.87L212.2,235.58L212.8,236.2L213.4,236.81L214,237.52L214.6,238.28L215.2,239.06L215.8,239.87L216.4,240.7L216.73,240.37L217.06,239.5L217.38,238.29L217.71,236.72L218.04,233.91L218.37,230.1L218.69,225.69L219.02,221.1L219.35,216.69L219.68,211.96L220,206.84L220.33,201.56L220.66,196.36L220.99,191.46L221.31,186.99L221.64,182.59L221.97,178.29L222.3,174.22L222.62,170.53L222.95,167.34L223.28,164.65L223.61,162.2L223.93,160.04L224.26,158.25L224.59,156.89L224.92,155.7L225.24,154.68L225.57,153.88L225.9,153.4L226.55,154.02L227.2,155.49L227.86,157.93L228.51,162.55L229.16,168.28L229.81,173.89L230.46,179.72L231.11,186.05L231.77,192.55L232.42,198.93L233.07,204.86L233.72,210.15L234.37,215.35L235.02,220.27L235.68,224.5L236.33,227.61L236.98,229.9L237.63,231.83L238.28,233.41L238.93,234.67L239.59,235.62L240.24,236.36L240.89,236.99L241.54,237.61L242.19,238.34L242.84,239.12L243.5,239.92L244.15,240.75L244.8,241.6L245.2,241.27L245.61,240.41L246.01,239.2L246.41,237.64L246.82,234.85L247.22,231.05L247.62,226.66L248.03,222.1L248.43,217.71L248.83,213L249.24,207.91L249.64,202.66L250.04,197.49L250.45,192.61L250.85,188.17L251.26,183.79L251.66,179.51L252.06,175.47L252.47,171.79L252.87,168.61L253.27,165.94L253.68,163.5L254.08,161.35L254.48,159.58L254.89,158.22L255.29,157.04L255.69,156.02L256.1,155.23L256.5,154.75L257.09,155.35L257.68,156.79L258.27,159.18L258.86,163.7L259.45,169.3L260.04,174.78L260.63,180.49L261.22,186.68L261.81,193.04L262.4,199.27L262.99,205.07L263.58,210.24L264.17,215.33L264.76,220.15L265.34,224.28L265.93,227.32L266.52,229.56L267.11,231.44L267.7,232.99L268.29,234.22L268.88,235.16L269.47,235.87L270.06,236.49L270.65,237.1L271.24,237.81L271.83,238.57L272.42,239.36L273.01,240.17L273.6,241L273.98,240.68L274.36,239.85L274.74,238.69L275.12,237.18L275.5,234.48L275.88,230.82L276.26,226.58L276.63,222.17L277.01,217.94L277.39,213.39L277.77,208.47L278.15,203.41L278.53,198.41L278.91,193.7L279.29,189.42L279.67,185.19L280.05,181.06L280.43,177.15L280.81,173.6L281.19,170.53L281.57,167.95L281.94,165.6L282.32,163.53L282.7,161.81L283.08,160.5L283.46,159.36L283.84,158.37L284.22,157.61L284.6,157.15L285.2,157.6L285.8,158.95" fill="none" stroke="#1c74b8" stroke-width="1.45" stroke-linejoin="round"/>
</g>
<path d="M48.6,152.2H285.5 M48.6,243.3H285.5" stroke="#9c9c9c" stroke-width="0.75" fill="none"/>
<path d="M48.6,152.2V243.3" stroke="#5aa3dc" stroke-width="0.75"/>
<path d="M285.5,152.2V243.3" stroke="#f0a184" stroke-width="0.75"/>
<path d="M48.6,152.2h1.8M48.6,182.2h1.8M48.6,212.2h1.8" stroke="#5aa3dc" stroke-width="0.6" fill="none"/>
<path d="M285.5,228.2h-1.8M285.5,207.77h-1.8M285.5,187.34h-1.8M285.5,166.91h-1.8" stroke="#ee8870" stroke-width="0.6" fill="none"/>
<path d="M52.5,243.3v-1.8M127.5,243.3v-1.8M202.5,243.3v-1.8M277.5,243.3v-1.8" stroke="#777" stroke-width="0.6" fill="none"/>
<text x="45.8" y="155.9" font-size="7.4" fill="#2f8bd6" stroke="#2f8bd6" stroke-width="0.2" text-anchor="end">1.0</text>
<text x="45.8" y="184.8" font-size="7.4" fill="#2f8bd6" stroke="#2f8bd6" stroke-width="0.2" text-anchor="end">0.8</text>
<text x="45.8" y="214.8" font-size="7.4" fill="#2f8bd6" stroke="#2f8bd6" stroke-width="0.2" text-anchor="end">0.6</text>
<text x="288.2" y="230.7" font-size="7.4" fill="#ef3b36" stroke="#ef3b36" stroke-width="0.2" text-anchor="start" letter-spacing="-0.25">1.2</text>
<text x="288.2" y="210.27" font-size="7.4" fill="#ef3b36" stroke="#ef3b36" stroke-width="0.2" text-anchor="start" letter-spacing="-0.25">1.3</text>
<text x="288.2" y="189.84" font-size="7.4" fill="#ef3b36" stroke="#ef3b36" stroke-width="0.2" text-anchor="start" letter-spacing="-0.25">1.4</text>
<text x="288.2" y="169.41" font-size="7.4" fill="#ef3b36" stroke="#ef3b36" stroke-width="0.2" text-anchor="start" letter-spacing="-0.25">1.5</text>
<text x="52.4" y="251.7" font-size="7.4" fill="#2b2b2b" stroke="#2b2b2b" stroke-width="0.2" text-anchor="middle">0</text>
<text x="127.3" y="251.7" font-size="7.4" fill="#2b2b2b" stroke="#2b2b2b" stroke-width="0.2" text-anchor="middle">10</text>
<text x="203" y="251.7" font-size="7.4" fill="#2b2b2b" stroke="#2b2b2b" stroke-width="0.2" text-anchor="middle">20</text>
<text x="279.2" y="251.7" font-size="7.4" fill="#2b2b2b" stroke="#2b2b2b" stroke-width="0.2" text-anchor="middle">30</text>
<text x="167.8" y="262" font-size="8.5" fill="#2b2b2b" stroke="#2b2b2b" stroke-width="0.2" text-anchor="middle" letter-spacing="0.03">Time (s)</text>
<text x="28.6" y="197.3" font-size="8.4" fill="#2f8bd6" stroke="#2f8bd6" stroke-width="0.2" text-anchor="middle" letter-spacing="0.16" transform="rotate(-90 28.6 197.3)"><tspan font-style="italic">Φ</tspan>(<tspan font-style="italic">t</tspan>) (a.u.)</text>
<text x="316.2" y="197" font-size="8.4" fill="#ef3b36" stroke="#ef3b36" stroke-width="0.2" text-anchor="middle" letter-spacing="0.41" transform="rotate(90 316.2 197)">Driving light</text>
<text x="306" y="197.3" font-size="8.4" fill="#ef3b36" stroke="#ef3b36" stroke-width="0.2" text-anchor="middle" letter-spacing="0.29" transform="rotate(90 306 197.3)">intensity (mW cm<tspan font-size="5.54" dy="-3.19">−2</tspan><tspan dy="3.19">)</tspan></text>
<g clip-path="url(#ce)">
<path d="M379.45,184.5L380.51,211.36L381.47,213.88L382.15,204.82L383.12,190.4L384.34,220.76L384.91,177.71L385.85,212.86L387.09,181.68L387.88,220.22L388.69,190.26L389.66,220.2L390.64,211.31L391.4,191.86L392.26,210.29L393.43,211.08L394.3,214.57L395.15,214L396.19,193.64L396.99,213.52L398.08,176.88L398.69,213.14L399.74,173.19L400.63,208.1L401.49,175.82L402.5,200.11L403.27,173.85L404.41,207.56L405.35,215.55L405.97,187.14L407.02,212.1L407.86,176.99L408.7,180.94L409.94,213.75L410.66,177.07L411.47,204.28L412.59,194.33L413.32,213.27L414.51,177.46L415.15,216.2L415.99,191.24L416.97,204.42L417.95,188.76L418.91,189.52L420,188.74L420.83,185.4L421.6,209.68L422.39,179.73L423.36,208.44L424.61,193.31L425.31,209.21L426.31,177.37L426.97,203.64L427.88,190.67L429.12,219.65L429.93,188.51L430.73,217.1L431.65,193.96L432.47,217.86L433.42,190.35L434.28,205.61L435.52,182.04L436.28,221.78L437.06,179.1L438.22,182.56L438.92,221.21L439.78,177.39L440.91,214.33L441.94,194.53L442.51,219.11L443.73,187.28L444.4,207.83L445.28,185.78L446.16,199.48L447.19,195.21L448.28,206.32L449.1,213.48L450.15,179.11L450.81,218.34L451.77,180.35L452.66,219.16L453.86,184.24L454.76,216.31L455.44,183.22L456.39,202.47L457.25,193.13L458.34,215.06L458.97,186.8L459.9,177.94L460.95,210.67L461.8,195.77L462.95,211.64L463.83,184.42L464.66,194.25L465.62,206.86L466.55,206.72L467.5,187.12L468.47,182.33L469.08,206.09L470.18,187.52L470.9,214.03L471.94,178.65L472.99,204.69L473.95,194.95L474.81,206.82L475.43,190.81L476.48,204.06L477.31,193.73L478.56,205.17L479.13,188.15L480.09,207.14L481.05,179.07L481.84,204.35L483.08,185.82L483.9,196.3L484.63,184.76L485.68,201.91L486.42,182.42L487.55,216.15L488.31,178.21L489.15,203.78L490.1,198.26L491.19,191.07L492.13,206.32L492.92,182.6L493.96,212.73L494.76,191.72L495.59,203.97L496.58,176.59L497.52,208.74L498.64,183.31L499.24,176.49L500.14,202.33L501.25,190.44L502.32,212.45L503.21,213.21L504.05,174.86L504.71,215.74L505.92,178.84L506.78,212.01L507.48,178.73L508.52,201.51L509.27,183.04L510.49,209.94L511.37,189.3L512.32,196.36L513.22,203.86L513.93,182.38L515.06,217.15L515.75,217.88L516.62,192.04L517.64,211.93L518.6,193.61L519.43,213.34L520.47,178.69L521.38,214.6L522.15,173.63L523.22,202.27L524.03,211.61L525.09,191.19L525.83,210.19L526.95,192.29L527.71,183.35L528.68,212.94L529.64,188.59L530.49,209.35L531.3,183.49L532.51,212.55L533.07,189.17L534.07,193.64L535.08,208.32L535.78,178.96L536.75,220.1L537.92,188.31L538.83,219.43L539.68,179.33L540.71,189.49L541.56,204.35L542.29,179.93L543.35,206.29L544.14,175.09L545.22,207.54L545.99,181.93L546.81,216.82L548.01,191.1L548.85,216.98L549.79,207.94L550.63,193.59L551.63,200.76L552.41,184.65L553.37,211.67L554.09,206.96L555.2,177.91L556.22,187.83L557.09,216.21L558.04,201.39L558.83,189.39L559.9,189.61L560.51,207.87L561.73,185.9L562.44,205.8L563.24,175.09L564.37,209.59L565.22,179.44L566.12,204.63L567.2,174.19L567.83,207.16L568.94,175.02L569.77,173.11L570.73,211.39L571.64,184.53L572.4,188.09L573.47,176.5L574.52,178.64L575.16,215.92L576.01,187.7L576.95,206.8L578.02,176.38L579.14,203.81L579.68,177.94L580.98,212.13L581.71,207.79L582.46,190.72L583.49,204.3L584.32,185.05L585.44,219.26L586.28,196.76L587.1,208.13L588,178.9L589.16,205.09L590.03,182.89L590.81,215.24L591.72,181.53L592.76,200.54L593.77,175.22L594.33,214.17L595.28,181.67L596.27,206.11L597.24,181.69L597.98,207.02L598.89,192.44L599.87,192.6L600.85,201.19L601.91,189.51L602.77,187.33L603.45,212.52L604.37,209.26L605.45,179.48L606.54,215.8L607.47,193.25" fill="none" stroke="#ec0808" stroke-width="0.5" stroke-linejoin="miter"/>
<path d="M379.45,197.6L379.89,191.82L380.33,186.26L380.77,181.09L381.21,176.46L381.65,172.43L382.09,169L382.53,166.14L382.97,163.8L383.41,161.91L383.85,160.38L384.29,159.17L384.73,158.21L385.17,157.46L385.62,156.88L386.06,156.44L386.5,156.12L386.94,155.89L387.38,155.76L387.82,155.7L388.26,155.73L388.7,155.83L389.14,156.02L389.58,156.31L390.02,156.7L390.46,157.23L390.9,157.91L391.34,158.78L391.78,159.89L392.22,161.29L392.66,163.04L393.1,165.2L393.54,167.86L393.98,171.07L394.42,174.87L394.86,179.28L395.3,184.25L395.74,189.68L396.18,195.41L396.62,201.21L397.06,206.88L397.51,212.22L397.95,217.06L398.39,221.32L398.83,224.98L399.27,228.04L399.71,230.57L400.15,232.63L400.59,234.28L401.03,235.6L401.47,236.65L401.91,237.47L402.35,238.12L402.79,238.61L403.23,238.97L403.67,239.23L404.11,239.4L404.55,239.49L404.99,239.49L405.43,239.42L405.87,239.26L406.31,239.01L406.75,238.66L407.19,238.19L407.63,237.57L408.07,236.77L408.51,235.76L408.95,234.47L409.39,232.87L409.84,230.87L410.28,228.4L410.72,225.41L411.16,221.84L411.6,217.65L412.04,212.88L412.48,207.61L412.92,201.97L413.36,196.17L413.8,190.42L414.24,184.94L414.68,179.9L415.12,175.42L415.56,171.53L416,168.25L416.44,165.52L416.88,163.3L417.32,161.5L417.76,160.06L418.2,158.92L418.64,158.01L419.08,157.31L419.52,156.76L419.96,156.35L420.4,156.05L420.84,155.85L421.28,155.74L421.73,155.7L422.17,155.74L422.61,155.87L423.05,156.08L423.49,156.39L423.93,156.82L424.37,157.38L424.81,158.11L425.25,159.03L425.69,160.21L426.13,161.69L426.57,163.53L427.01,165.81L427.45,168.59L427.89,171.94L428.33,175.9L428.77,180.45L429.21,185.55L429.65,191.07L430.09,196.84L430.53,202.63L430.97,208.23L431.41,213.45L431.85,218.16L432.29,222.27L432.73,225.78L433.17,228.71L433.62,231.12L434.06,233.07L434.5,234.64L434.94,235.88L435.38,236.87L435.82,237.65L436.26,238.25L436.7,238.71L437.14,239.05L437.58,239.28L438.02,239.43L438.46,239.5L438.9,239.48L439.34,239.39L439.78,239.21L440.22,238.94L440.66,238.56L441.1,238.05L441.54,237.39L441.98,236.54L442.42,235.47L442.86,234.11L443.3,232.41L443.74,230.31L444.18,227.72L444.62,224.59L445.06,220.86L445.5,216.53L445.95,211.63L446.39,206.25L446.83,200.55L447.27,194.75L447.71,189.05L448.15,183.66L448.59,178.75L449.03,174.41L449.47,170.67L449.91,167.53L450.35,164.93L450.79,162.82L451.23,161.12L451.67,159.75L452.11,158.67L452.55,157.82L452.99,157.16L453.43,156.65L453.87,156.27L454.31,155.99L454.75,155.81L455.19,155.72L455.63,155.7L456.07,155.77L456.51,155.91L456.95,156.15L457.39,156.49L457.84,156.94L458.28,157.54L458.72,158.31L459.16,159.3L459.6,160.54L460.04,162.1L460.48,164.05L460.92,166.44L461.36,169.36L461.8,172.86L462.24,176.96L462.68,181.66L463.12,186.87L463.56,192.47L464,198.26L464.44,204.03L464.88,209.56L465.32,214.66L465.76,219.23L466.2,223.19L466.64,226.55L467.08,229.35L467.52,231.64L467.96,233.49L468.4,234.97L468.84,236.15L469.28,237.08L469.73,237.81L470.17,238.37L470.61,238.8L471.05,239.11L471.49,239.33L471.93,239.45L472.37,239.5L472.81,239.47L473.25,239.35L473.69,239.15L474.13,238.85L474.57,238.45L475.01,237.9L475.45,237.2L475.89,236.3L476.33,235.16L476.77,233.73L477.21,231.94L477.65,229.72L478.09,227L478.53,223.73L478.97,219.86L479.41,215.38L479.85,210.35L480.29,204.87L480.73,199.13L481.17,193.33L481.61,187.69L482.06,182.4L482.5,177.63L482.94,173.43L483.38,169.84L483.82,166.84L484.26,164.37L484.7,162.37L485.14,160.75L485.58,159.46L486.02,158.44L486.46,157.64L486.9,157.02L487.34,156.55L487.78,156.19L488.22,155.94L488.66,155.78L489.1,155.71L489.54,155.71L489.98,155.8L490.42,155.96L490.86,156.22L491.3,156.59L491.74,157.08L492.18,157.71L492.62,158.53L493.06,159.58L493.5,160.89L493.95,162.54L494.39,164.59L494.83,167.11L495.27,170.17L495.71,173.81L496.15,178.06L496.59,182.9L497.03,188.22L497.47,193.89L497.91,199.69L498.35,205.42L498.79,210.86L499.23,215.84L499.67,220.26L500.11,224.07L500.55,227.29L500.99,229.95L501.43,232.13L501.87,233.88L502.31,235.28L502.75,236.4L503.19,237.28L503.63,237.96L504.07,238.49L504.51,238.89L504.95,239.17L505.39,239.37L505.84,239.47L506.28,239.5L506.72,239.45L507.16,239.31L507.6,239.09L508.04,238.76L508.48,238.33L508.92,237.75L509.36,237L509.8,236.05L510.24,234.84L510.68,233.32L511.12,231.43L511.56,229.1L512,226.25L512.44,222.83L512.88,218.81L513.32,214.19L513.76,209.04L514.2,203.48L514.64,197.7L515.08,191.92L515.52,186.35L515.96,181.18L516.4,176.54L516.84,172.49L517.28,169.05L517.72,166.19L518.17,163.84L518.61,161.94L519.05,160.41L519.49,159.19L519.93,158.23L520.37,157.48L520.81,156.89L521.25,156.45L521.69,156.12L522.13,155.9L522.57,155.76L523.01,155.7L523.45,155.72L523.89,155.83L524.33,156.02L524.77,156.3L525.21,156.69L525.65,157.22L526.09,157.9L526.53,158.77L526.97,159.87L527.41,161.26L527.85,163.01L528.29,165.16L528.73,167.81L529.17,171.01L529.61,174.8L530.06,179.2L530.5,184.16L530.94,189.59L531.38,195.31L531.82,201.11L532.26,206.79L532.7,212.13L533.14,216.98L533.58,221.25L534.02,224.92L534.46,227.99L534.9,230.53L535.34,232.59L535.78,234.26L536.22,235.58L536.66,236.63L537.1,237.46L537.54,238.11L537.98,238.6L538.42,238.97L538.86,239.23L539.3,239.4L539.74,239.49L540.18,239.49L540.62,239.42L541.06,239.26L541.5,239.02L541.95,238.67L542.39,238.2L542.83,237.58L543.27,236.79L543.71,235.78L544.15,234.5L544.59,232.9L545.03,230.9L545.47,228.45L545.91,225.47L546.35,221.9L546.79,217.73L547.23,212.97L547.67,207.7L548.11,202.07L548.55,196.27L548.99,190.52L549.43,185.04L549.87,179.99L550.31,175.49L550.75,171.59L551.19,168.3L551.63,165.57L552.07,163.33L552.51,161.53L552.95,160.08L553.39,158.93L553.83,158.03L554.28,157.32L554.72,156.77L555.16,156.36L555.6,156.06L556.04,155.85L556.48,155.74L556.92,155.7L557.36,155.74L557.8,155.87L558.24,156.08L558.68,156.39L559.12,156.81L559.56,157.37L560,158.09L560.44,159.02L560.88,160.19L561.32,161.66L561.76,163.49L562.2,165.76L562.64,168.54L563.08,171.88L563.52,175.83L563.96,180.37L564.4,185.46L564.84,190.97L565.28,196.73L565.72,202.53L566.17,208.14L566.61,213.37L567.05,218.08L567.49,222.21L567.93,225.73L568.37,228.66L568.81,231.08L569.25,233.04L569.69,234.61L570.13,235.86L570.57,236.86L571.01,237.64L571.45,238.24L571.89,238.7L572.33,239.04L572.77,239.28L573.21,239.43L573.65,239.5L574.09,239.48L574.53,239.39L574.97,239.21L575.41,238.94L575.85,238.56L576.29,238.06L576.73,237.4L577.17,236.56L577.61,235.49L578.06,234.14L578.5,232.45L578.94,230.35L579.38,227.77L579.82,224.65L580.26,220.93L580.7,216.61L581.14,211.72L581.58,206.35L582.02,200.65L582.46,194.85L582.9,189.14L583.34,183.75L583.78,178.83L584.22,174.48L584.66,170.73L585.1,167.58L585.54,164.97L585.98,162.85L586.42,161.14L586.86,159.77L587.3,158.69L587.74,157.84L588.18,157.17L588.62,156.66L589.06,156.27L589.5,156L589.94,155.82L590.39,155.72L590.83,155.7L591.27,155.77L591.71,155.91L592.15,156.14L592.59,156.48L593.03,156.93L593.47,157.53L593.91,158.3L594.35,159.28L594.79,160.52L595.23,162.07L595.67,164.01L596.11,166.4L596.55,169.31L596.99,172.79L597.43,176.89L597.87,181.57L598.31,186.78L598.75,192.37L599.19,198.16L599.63,203.93L600.07,209.46L600.51,214.58L600.95,219.15L601.39,223.13L601.83,226.5L602.28,229.3L602.72,231.6L603.16,233.46L603.6,234.95L604.04,236.13L604.48,237.07L604.92,237.8L605.36,238.37L605.8,238.79L606.24,239.11L606.68,239.32L607.12,239.45L607.56,239.5L608,239.47" fill="none" stroke="#1c74b8" stroke-width="1.45" stroke-linejoin="round"/>
</g>
<path d="M377.8,153.6H607.5 M377.8,242.9H607.5" stroke="#9c9c9c" stroke-width="0.75" fill="none"/>
<path d="M377.8,153.6V242.9" stroke="#5aa3dc" stroke-width="0.75"/>
<path d="M607.5,153.6V242.9" stroke="#f0a184" stroke-width="0.75"/>
<path d="M377.8,155.7h1.8M377.8,197.6h1.8M377.8,239.5h1.8" stroke="#5aa3dc" stroke-width="0.6" fill="none"/>
<path d="M607.5,174.1h-1.8M607.5,217.1h-1.8" stroke="#ee8870" stroke-width="0.6" fill="none"/>
<path d="M379.5,242.9v-1.8M470.9,242.9v-1.8M562.3,242.9v-1.8" stroke="#777" stroke-width="0.6" fill="none"/>
<text x="374.8" y="157.8" font-size="7.4" fill="#2f8bd6" stroke="#2f8bd6" stroke-width="0.2" text-anchor="end">1</text>
<text x="374.8" y="200.2" font-size="7.4" fill="#2f8bd6" stroke="#2f8bd6" stroke-width="0.2" text-anchor="end">0</text>
<text x="374.8" y="242" font-size="7.4" fill="#2f8bd6" stroke="#2f8bd6" stroke-width="0.2" text-anchor="end">−1</text>
<text x="610.4" y="176.6" font-size="7.4" fill="#ef3b36" stroke="#ef3b36" stroke-width="0.2" text-anchor="start" letter-spacing="-0.25">1.0</text>
<text x="610.4" y="219.6" font-size="7.4" fill="#ef3b36" stroke="#ef3b36" stroke-width="0.2" text-anchor="start" letter-spacing="-0.18">0.4</text>
<text x="379.8" y="251.7" font-size="7.4" fill="#2b2b2b" stroke="#2b2b2b" stroke-width="0.2" text-anchor="middle">0</text>
<text x="471.3" y="251.7" font-size="7.4" fill="#2b2b2b" stroke="#2b2b2b" stroke-width="0.2" text-anchor="middle">2</text>
<text x="562.4" y="251.7" font-size="7.4" fill="#2b2b2b" stroke="#2b2b2b" stroke-width="0.2" text-anchor="middle">4</text>
<text x="493.6" y="262" font-size="8.5" fill="#2b2b2b" stroke="#2b2b2b" stroke-width="0.2" text-anchor="middle" letter-spacing="0.03">Time (s)</text>
<text x="361.8" y="197.5" font-size="8.5" fill="#2f8bd6" stroke="#2f8bd6" stroke-width="0.2" text-anchor="middle" letter-spacing="-0.01" transform="rotate(-90 361.8 197.5)"><tspan font-style="italic">n</tspan><tspan font-style="italic" font-size="5.61" dy="1.87">x</tspan><tspan dy="-1.87">(</tspan><tspan font-style="italic">t</tspan>)</text>
<text x="640.4" y="198.2" font-size="8.4" fill="#ef3b36" stroke="#ef3b36" stroke-width="0.2" text-anchor="middle" letter-spacing="0.37" transform="rotate(90 640.4 198.2)">Light coupling</text>
<text x="631.4" y="198.2" font-size="8.4" fill="#ef3b36" stroke="#ef3b36" stroke-width="0.2" text-anchor="middle" letter-spacing="0.4" transform="rotate(90 631.4 198.2)">efficiency</text>
<g clip-path="url(#cf)">
<path d="M45.9,309.9V339.1M43.3,309.9h5.2M43.3,339.1h5.2M61.2,300V355.1M58.6,300h5.2M58.6,355.1h5.2M76.5,300V341.3M73.9,300h5.2M73.9,341.3h5.2M91.8,319.5V362.2M89.2,319.5h5.2M89.2,362.2h5.2M107.2,352.2V381.4M104.6,352.2h5.2M104.6,381.4h5.2M122.4,387.9V395.2M119.8,387.9h5.2M119.8,395.2h5.2M137.8,376V420M135.2,376h5.2M135.2,420h5.2M153.2,375.3V420M150.6,375.3h5.2M150.6,420h5.2" stroke="#84c0ea" stroke-width="0.85" fill="none"/>
</g>
<rect x="38.2" y="309.5" width="122.3" height="95.9" fill="none" stroke="#555555" stroke-width="0.7"/>
<g fill="#267ec2" stroke="#173f63" stroke-width="0.55"><circle cx="45.9" cy="320.8" r="1.65"/><circle cx="61.2" cy="324.3" r="1.65"/><circle cx="76.5" cy="322.4" r="1.65"/><circle cx="91.8" cy="340.7" r="1.65"/><circle cx="107.2" cy="366.4" r="1.65"/><circle cx="122.4" cy="391.7" r="1.65"/><circle cx="137.8" cy="398.2" r="1.65"/><circle cx="153.2" cy="391.7" r="1.65"/></g>
<path d="M38.2,341.3h1.8M38.2,373.4h1.8M45.9,405.4v-1.8M76.5,405.4v-1.8M107.2,405.4v-1.8M137.8,405.4v-1.8" stroke="#555555" stroke-width="0.6" fill="none"/>
<text x="34.3" y="312.6" font-size="7.4" fill="#2f8bd6" stroke="#2f8bd6" stroke-width="0.2" text-anchor="end" letter-spacing="0.16">0.93</text>
<text x="34.3" y="343.9" font-size="7.4" fill="#2f8bd6" stroke="#2f8bd6" stroke-width="0.2" text-anchor="end" letter-spacing="0.16">0.90</text>
<text x="34.3" y="376" font-size="7.4" fill="#2f8bd6" stroke="#2f8bd6" stroke-width="0.2" text-anchor="end" letter-spacing="0.16">0.87</text>
<text x="34.3" y="407.9" font-size="7.4" fill="#2f8bd6" stroke="#2f8bd6" stroke-width="0.2" text-anchor="end" letter-spacing="0.16">0.84</text>
<text x="46.2" y="414.1" font-size="7.4" fill="#2b2b2b" stroke="#2b2b2b" stroke-width="0.2" text-anchor="middle" letter-spacing="0.18">1.0</text>
<text x="77" y="414.1" font-size="7.4" fill="#2b2b2b" stroke="#2b2b2b" stroke-width="0.2" text-anchor="middle" letter-spacing="0.18">0.8</text>
<text x="108" y="414.1" font-size="7.4" fill="#2b2b2b" stroke="#2b2b2b" stroke-width="0.2" text-anchor="middle" letter-spacing="0.18">0.6</text>
<text x="139.3" y="414.1" font-size="7.4" fill="#2b2b2b" stroke="#2b2b2b" stroke-width="0.2" text-anchor="middle" letter-spacing="0.18">0.4</text>
<text x="67.4" y="372.6" font-size="8.6" fill="#2b2b2b" stroke="#2b2b2b" stroke-width="0.2" text-anchor="middle" letter-spacing="0.26">Space-time</text>
<text x="67.4" y="383.6" font-size="8.6" fill="#2b2b2b" stroke="#2b2b2b" stroke-width="0.2" text-anchor="middle" letter-spacing="0.21">crystal</text>
<text x="99.5" y="425.2" font-size="8.6" fill="#2b2b2b" stroke="#2b2b2b" stroke-width="0.2" text-anchor="middle"><tspan font-style="italic">α</tspan></text>
<text x="13.6" y="353.9" font-size="8.3" fill="#2f8bd6" stroke="#2f8bd6" stroke-width="0.2" text-anchor="middle" letter-spacing="0.07" transform="rotate(-90 13.6 353.9)">Crystalline fraction, <tspan font-style="italic">Ξ</tspan></text>
<g clip-path="url(#cg1)"><path d="M198.3,332.42L198.45,327.44L198.6,322.56L198.75,318.05L198.9,314.17L199.05,311.14L199.2,309.16L199.36,308.33L199.51,308.57L199.66,309.63L199.81,311.44L199.96,313.93L200.11,317.01L200.26,320.56L200.41,324.42L200.56,328.47L200.71,332.53L200.86,336.48L201.01,340.18L201.16,343.5L201.31,346.36L201.47,348.7L201.62,350.48L201.77,351.72L201.92,352.46L202.07,352.79L202.22,352.26L202.37,352.13L202.52,351.55L202.67,350.31L202.82,348.34L202.97,345.61L203.12,342.18L203.27,338.17L203.43,333.76L203.58,329.18L203.73,324.66L203.88,320.47L204.03,316.84L204.18,313.99L204.33,312.08L204.48,311.24L204.63,311.41L204.78,312.32L204.93,313.95L205.08,316.2L205.23,319.01L205.39,322.25L205.54,325.79L205.69,329.51L205.84,333.27L205.99,336.92L206.14,340.34L206.29,343.44L206.44,346.11L206.59,348.3L206.74,349.98L206.89,351.16L207.04,351.87L207.19,352.2L207.34,350.08L207.5,349.99L207.65,349.5L207.8,348.43L207.95,346.71L208.1,344.3L208.25,341.25L208.4,337.67L208.55,333.73L208.7,329.61L208.85,325.53L209,321.73L209.15,318.42L209.3,315.8L209.46,314.02L209.61,313.19L209.76,313.28L209.91,314.06L210.06,315.47L210.21,317.47L210.36,319.96L210.51,322.85L210.66,326.03L210.81,329.37L210.96,332.75L211.11,336.04L211.26,339.14L211.42,341.95L211.57,344.38L211.72,346.39L211.87,347.94L212.02,349.03L212.17,349.7L212.32,350.01L212.47,350.08L212.62,350.84L212.77,350.35L212.92,349.26L213.07,347.46L213.22,344.92L213.37,341.69L213.53,337.88L213.68,333.66L213.83,329.24L213.98,324.85L214.13,320.73L214.28,317.12L214.43,314.24L214.58,312.26L214.73,311.29L214.88,311.33L215.03,312.12L215.18,313.59L215.33,315.69L215.49,318.33L215.64,321.41L215.79,324.81L215.94,328.39L216.09,332.03L216.24,335.58L216.39,338.94L216.54,341.98L216.69,344.63L216.84,346.82L216.99,348.52L217.14,349.73L217.29,350.48L217.45,350.84L217.6,350.93L217.75,352.74L217.9,352.28L218.05,351.21L218.2,349.42L218.35,346.88L218.5,343.62L218.65,339.76L218.8,335.47L218.95,330.95L219.1,326.45L219.25,322.21L219.4,318.47L219.56,315.46L219.71,313.36L219.86,312.29L220.01,312.27L220.16,313.02L220.31,314.48L220.46,316.58L220.61,319.25L220.76,322.37L220.91,325.83L221.06,329.48L221.21,333.2L221.36,336.85L221.52,340.3L221.67,343.44L221.82,346.18L221.97,348.46L222.12,350.24L222.27,351.51L222.42,352.31L222.57,352.71L222.72,352.81L222.87,351.44L223.02,350.96L223.17,349.8L223.32,347.83L223.48,345.01L223.63,341.37L223.78,337.04L223.93,332.2L224.08,327.09L224.23,321.97L224.38,317.13L224.53,312.84L224.68,309.37L224.83,306.9L224.98,305.6L225.13,305.5L225.28,306.29L225.43,307.89L225.59,310.22L225.74,313.2L225.89,316.71L226.04,320.61L226.19,324.74L226.34,328.96L226.49,333.11L226.64,337.04L226.79,340.63L226.94,343.78L227.09,346.4L227.24,348.46L227.39,349.94L227.55,350.88L227.7,351.36L227.85,351.5L228,351.28L228.15,350.84L228.3,349.74L228.45,347.84L228.6,345.09L228.75,341.52L228.9,337.25L229.05,332.46L229.2,327.38L229.35,322.27L229.51,317.42L229.66,313.1L229.81,309.57L229.96,307.04L230.11,305.65L230.26,305.47L230.41,306.2L230.56,307.74L230.71,310.01L230.86,312.94L231.01,316.4L231.16,320.26L231.31,324.37L231.46,328.57L231.62,332.71L231.77,336.65L231.92,340.25L232.07,343.42L232.22,346.07L232.37,348.16L232.52,349.68L232.67,350.66L232.82,351.17L232.97,351.32L233.12,352.52L233.27,352.11L233.42,351.04L233.58,349.15L233.73,346.39L233.88,342.79L234.03,338.45L234.18,333.56L234.33,328.35L234.48,323.1L234.63,318.09L234.78,313.61L234.93,309.91L235.08,307.23L235.23,305.72L235.38,305.45L235.54,306.14L235.69,307.66L235.84,309.94L235.99,312.9L236.14,316.42L236.29,320.36L236.44,324.56L236.59,328.88L236.74,333.14L236.89,337.2L237.04,340.93L237.19,344.22L237.34,346.98L237.49,349.17L237.65,350.77L237.8,351.82L237.95,352.37L238.1,352.55L238.25,350.32L238.4,350L238.55,349.14L238.7,347.58L238.85,345.29L239,342.27L239.15,338.62L239.3,334.49L239.45,330.07L239.61,325.6L239.76,321.32L239.91,317.46L240.06,314.27L240.21,311.92L240.36,310.56L240.51,310.25L240.66,310.79L240.81,312.03L240.96,313.93L241.11,316.41L241.26,319.37L241.41,322.7L241.57,326.26L241.72,329.93L241.87,333.56L242.02,337.04L242.17,340.23L242.32,343.06L242.47,345.44L242.62,347.34L242.77,348.74L242.92,349.66L243.07,350.16L243.22,350.33L243.37,352.72L243.52,352.4L243.68,351.47L243.83,349.77L243.98,347.24L244.13,343.88L244.28,339.79L244.43,335.15L244.58,330.17L244.73,325.1L244.88,320.22L245.03,315.82L245.18,312.14L245.33,309.4L245.48,307.78L245.64,307.35L245.79,307.9L245.94,309.24L246.09,311.34L246.24,314.1L246.39,317.42L246.54,321.16L246.69,325.18L246.84,329.33L246.99,333.45L247.14,337.4L247.29,341.05L247.44,344.28L247.6,347.02L247.75,349.21L247.9,350.83L248.05,351.91L248.2,352.5L248.35,352.72L248.5,351.65L248.65,351.36L248.8,350.47L248.95,348.8L249.1,346.28L249.25,342.91L249.4,338.8L249.55,334.11L249.71,329.04L249.86,323.87L250.01,318.88L250.16,314.35L250.31,310.54L250.46,307.68L250.61,305.93L250.76,305.41L250.91,305.91L251.06,307.22L251.21,309.31L251.36,312.08L251.51,315.42L251.67,319.21L251.82,323.29L251.97,327.51L252.12,331.71L252.27,335.76L252.42,339.5L252.57,342.82L252.72,345.65L252.87,347.92L253.02,349.62L253.17,350.76L253.32,351.4L253.47,351.64L253.63,351.18L253.78,350.92L253.93,350.09L254.08,348.49L254.23,346.06L254.38,342.79L254.53,338.77L254.68,334.16L254.83,329.17L254.98,324.05L255.13,319.09L255.28,314.56L255.43,310.73L255.58,307.82L255.74,306.01L255.89,305.41L256.04,305.84L256.19,307.08L256.34,309.09L256.49,311.79L256.64,315.06L256.79,318.78L256.94,322.8L257.09,326.97L257.24,331.14L257.39,335.16L257.54,338.88L257.7,342.21L257.85,345.05L258,347.34L258.15,349.05L258.3,350.22L258.45,350.89L258.6,351.15L258.75,351.51L258.9,351.3L259.05,350.56L259.2,349.11L259.35,346.87L259.5,343.84L259.66,340.09L259.81,335.77L259.96,331.08L260.11,326.25L260.26,321.55L260.41,317.23L260.56,313.56L260.71,310.75L260.86,308.96L261.01,308.31L261.16,308.65L261.31,309.77L261.46,311.62L261.61,314.12L261.77,317.17L261.92,320.66L262.07,324.44L262.22,328.37L262.37,332.31L262.52,336.12L262.67,339.66L262.82,342.83L262.97,345.54L263.12,347.74L263.27,349.41L263.42,350.54L263.57,351.2L263.73,351.48L263.88,350.91L264.03,350.73L264.18,350.04L264.33,348.67L264.48,346.52L264.63,343.59L264.78,339.94L264.93,335.71L265.08,331.11L265.23,326.34L265.38,321.69L265.53,317.4L265.69,313.73L265.84,310.88L265.99,309.04L266.14,308.31L266.29,308.6L266.44,309.65L266.59,311.42L266.74,313.84L266.89,316.82L267.04,320.23L267.19,323.94L267.34,327.81L267.49,331.7L267.64,335.46L267.8,338.98L267.95,342.14L268.1,344.85L268.25,347.05L268.4,348.73L268.55,349.89L268.7,350.57L268.85,350.87L269,350.33L269.15,350.17L269.3,349.51L269.45,348.15L269.6,345.99L269.76,343.02L269.91,339.3L270.06,334.98L270.21,330.25L270.36,325.34L270.51,320.52L270.66,316.06L270.81,312.22L270.96,309.22L271.11,307.24L271.26,306.4L271.41,306.63L271.56,307.66L271.71,309.43L271.87,311.89L272.02,314.92L272.17,318.41L272.32,322.22L272.47,326.2L272.62,330.22L272.77,334.12L272.92,337.77L273.07,341.05L273.22,343.89L273.37,346.2L273.52,347.97L273.67,349.2L273.83,349.94L273.98,350.27L274.13,349.49L274.28,349.35L274.43,348.73L274.58,347.42L274.73,345.32L274.88,342.4L275.03,338.72L275.18,334.43L275.33,329.7L275.48,324.79L275.63,319.94L275.79,315.43L275.94,311.52L276.09,308.44L276.24,306.38L276.39,305.46L276.54,305.62L276.69,306.59L276.84,308.32L276.99,310.74L277.14,313.74L277.29,317.21L277.44,321.01L277.59,325L277.74,329.03L277.9,332.95L278.05,336.64L278.2,339.96L278.35,342.84L278.5,345.2L278.65,347.01L278.8,348.29L278.95,349.06L279.1,349.41L279.25,349.49L279.4,351.96L279.55,351.35L279.7,350.02L279.86,347.86L280.01,344.83L280.16,340.99L280.31,336.49L280.46,331.51L280.61,326.31L280.76,321.16L280.91,316.35L281.06,312.15L281.21,308.83L281.36,306.56L281.51,305.49L281.66,305.59L281.82,306.56L281.97,308.34L282.12,310.84L282.27,313.98L282.42,317.62L282.57,321.63L282.72,325.84L282.87,330.11L283.02,334.28L283.17,338.2L283.32,341.75L283.47,344.84L283.62,347.38L283.77,349.34L283.93,350.73L284.08,351.58L284.23,351.99L284.38,352.08L284.53,350.59L284.68,350.09L284.83,348.96L284.98,347.09L285.13,344.46L285.28,341.1L285.43,337.15L285.58,332.75L285.73,328.14L285.89,323.56L286.04,319.27L286.19,315.5L286.34,312.48L286.49,310.4L286.64,309.37L286.79,309.4L286.94,310.2L287.09,311.73L287.24,313.91L287.39,316.65L287.54,319.86L287.69,323.39L287.85,327.12L288,330.91L288.15,334.62L288.3,338.12L288.45,341.3L288.6,344.06L288.75,346.35L288.9,348.13L289.05,349.4L289.2,350.19L289.35,350.58L289.5,350.67L289.65,350.42L289.8,349.94L289.96,348.81L290.11,346.93L290.26,344.24L290.41,340.79L290.56,336.71L290.71,332.16L290.86,327.36L291.01,322.58L291.16,318.07L291.31,314.09L291.46,310.89L291.61,308.64L291.76,307.48L291.92,307.44L292.07,308.23L292.22,309.76L292.37,311.99L292.52,314.81L292.67,318.12L292.82,321.78L292.97,325.66L293.12,329.61L293.27,333.48L293.42,337.15L293.57,340.49L293.72,343.41L293.88,345.83L294.03,347.73L294.18,349.09L294.33,349.94L294.48,350.37L294.63,350.49L294.78,351.99L294.93,351.51L295.08,350.35L295.23,348.37L295.38,345.53L295.53,341.86L295.68,337.49L295.83,332.6L295.99,327.43L296.14,322.25L296.29,317.34L296.44,313L296.59,309.46L296.74,306.95L296.89,305.61L297.04,305.49L297.19,306.28L297.34,307.88L297.49,310.23L297.64,313.24L297.79,316.78L297.95,320.72L298.1,324.9L298.25,329.17L298.4,333.37L298.55,337.35L298.7,340.99L298.85,344.18L299,346.84L299.15,348.93L299.3,350.44L299.45,351.41L299.6,351.9L299.75,352.04L299.91,353.13L300.06,352.71L300.21,351.64L300.36,349.8L300.51,347.13L300.66,343.66L300.81,339.49L300.96,334.82L301.11,329.85L301.26,324.86L301.41,320.11L301.56,315.88L301.71,312.42L301.86,309.93L302.02,308.55L302.17,308.36L302.32,309.06L302.47,310.55L302.62,312.76L302.77,315.61L302.92,318.98L303.07,322.75L303.22,326.76L303.37,330.87L303.52,334.91L303.67,338.77L303.82,342.3L303.98,345.4L304.13,348L304.28,350.05L304.43,351.54L304.58,352.51L304.73,353.01L304.88,353.17L305.03,349.39L305.18,349.05L305.33,348.15L305.48,346.55L305.63,344.21L305.78,341.15L305.94,337.47L306.09,333.31L306.24,328.88L306.39,324.4L306.54,320.13L306.69,316.31L306.84,313.15L306.99,310.85L307.14,309.55L307.29,309.3L307.44,309.88L307.59,311.16L307.74,313.09L307.89,315.61L308.05,318.59L308.2,321.94L308.35,325.52L308.5,329.19L308.65,332.82L308.8,336.29L308.95,339.47L309.1,342.28L309.25,344.64L309.4,346.51L309.55,347.88L309.7,348.78L309.85,349.25L310.01,349.41L310.16,352L310.31,351.64L310.46,350.65L310.61,348.86L310.76,346.2L310.91,342.71L311.06,338.48L311.21,333.69L311.36,328.55L311.51,323.35L311.66,318.37L311.81,313.88L311.97,310.15L312.12,307.4L312.27,305.8L312.42,305.43L312.57,306.04L312.72,307.47L312.87,309.66L313.02,312.53L313.17,315.97L313.32,319.83L313.47,323.97L313.62,328.23L313.77,332.46L313.92,336.5L314.08,340.22L314.23,343.51L314.38,346.29L314.53,348.51L314.68,350.14L314.83,351.22L314.98,351.81L315.13,352.01L315.28,351.95L315.43,351.67L315.58,350.85L315.73,349.33L315.88,347.07L316.04,344.06L316.19,340.41L316.34,336.24L316.49,331.77L316.64,327.22L316.79,322.84L316.94,318.87L317.09,315.55L317.24,313.08L317.39,311.61L317.54,311.21L317.69,311.68L317.84,312.88L318,314.76L318.15,317.23L318.3,320.2L318.45,323.56L318.6,327.16L318.75,330.89L318.9,334.59L319.05,338.14L319.2,341.42L319.35,344.33L319.5,346.79L319.65,348.76L319.8,350.23L319.95,351.21L320.11,351.75L320.26,351.95L320.41,349.73L320.56,349.48L320.71,348.7L320.86,347.26L321.01,345.06L321.16,342.13L321.31,338.54L321.46,334.44L321.61,330.02L321.76,325.5L321.91,321.12L322.07,317.15L322.22,313.81L322.37,311.29L322.52,309.74L322.67,309.27L322.82,309.69L322.97,310.83L323.12,312.64L323.27,315.06L323.42,317.98L323.57,321.28L323.72,324.85L323.87,328.54L324.03,332.22L324.18,335.76L324.33,339.04L324.48,341.96L324.63,344.44L324.78,346.43L324.93,347.92L325.08,348.93L325.23,349.49L325.38,349.71L325.53,350.91L325.68,350.7L325.83,350.01L325.98,348.67L326.14,346.62L326.29,343.86L326.44,340.47L326.59,336.57L326.74,332.35L326.89,328.02L327.04,323.81L327.19,319.97L327.34,316.72L327.49,314.24L327.64,312.69L327.79,312.17L327.94,312.52L328.1,313.56L328.25,315.25L328.4,317.52L328.55,320.29L328.7,323.43L328.85,326.83L329,330.36L329.15,333.89L329.3,337.3L329.45,340.46L329.6,343.28L329.75,345.69L329.9,347.63L330.06,349.1L330.21,350.09L330.36,350.66L330.51,350.89L330.66,351.35L330.81,351.14L330.96,350.36L331.11,348.83L331.26,346.47L331.41,343.26L331.56,339.28L331.71,334.7L331.86,329.71L332.01,324.58L332.17,319.57L332.32,314.98L332.47,311.06L332.62,308.05L332.77,306.13L332.92,305.41L333.07,305.77L333.22,306.95L333.37,308.9L333.52,311.55L333.67,314.78L333.82,318.48" fill="none" stroke="#4598d8" stroke-width="0.5" stroke-linejoin="round"/></g>
<g clip-path="url(#cg2)"><path d="M198.3,391.09L199,393.28L199.34,392.86L199.69,391.41L200.03,388.91L200.38,385.57L200.72,381.78L201.07,378.01L201.41,374.81L201.76,372.64L202.1,371.87L202.58,372.63L203.06,374.7L203.53,377.9L204.01,381.79L204.49,385.67L204.97,388.87L205.44,391.14L205.92,392.65L206.4,393.56L207,395.02L207.6,395.05L208.03,394.6L208.47,393.07L208.9,390.42L209.33,386.89L209.77,382.89L210.2,378.91L210.63,375.52L211.07,373.23L211.5,372.42L211.98,373.2L212.46,375.33L212.93,378.6L213.41,382.59L213.89,386.55L214.37,389.84L214.84,392.18L215.32,393.73L215.8,394.66L216.15,396.25L216.5,395.92L216.93,395.44L217.37,393.77L217.8,390.9L218.23,387.06L218.67,382.7L219.1,378.38L219.53,374.7L219.97,372.21L220.4,371.32L220.88,372.12L221.36,374.3L221.83,377.66L222.31,381.73L222.79,385.79L223.27,389.16L223.74,391.57L224.22,393.17L224.7,394.11L225.25,395.23L225.8,395.25L226.35,394.93L226.9,395.76L227.33,395.32L227.77,393.81L228.2,391.21L228.63,387.74L229.07,383.8L229.5,379.9L229.93,376.57L230.37,374.32L230.8,373.52L231.28,374.2L231.76,376.05L232.23,378.94L232.71,382.47L233.19,385.97L233.67,388.83L234.14,390.83L234.62,392.16L235.1,393.01L235.7,393.95L236.3,393.54L236.9,393.92L237.5,395.29L237.93,394.84L238.37,393.29L238.8,390.61L239.23,387.05L239.67,383L240.1,378.98L240.53,375.56L240.97,373.24L241.4,372.42L241.88,373.18L242.36,375.25L242.83,378.45L243.31,382.34L243.79,386.22L244.27,389.42L244.74,391.69L245.22,393.2L245.7,394.11L246.53,393.66L246.97,392.11L247.4,389.45L247.83,385.9L248.27,381.86L248.7,377.86L249.13,374.45L249.57,372.14L250,371.32L250.48,372.14L250.96,374.38L251.43,377.81L251.91,381.97L252.39,386.13L252.87,389.58L253.34,392.06L253.82,393.7L254.3,394.66L255,395.35L255.7,396.93L256.13,396.47L256.57,394.88L257,392.14L257.43,388.5L257.87,384.35L258.3,380.23L258.73,376.73L259.17,374.36L259.6,373.52L260.08,374.38L260.56,376.72L261.03,380.31L261.51,384.65L261.99,389L262.47,392.62L262.94,395.24L263.42,396.97L263.9,397.95L264.5,397.91L265.1,399.27L265.7,399.97L266.3,399.59L266.73,398.92L267.17,396.59L267.6,392.58L268.03,387.23L268.47,381.15L268.9,375.13L269.33,369.99L269.77,366.52L270.2,365.28L270.68,366.39L271.16,369.38L271.63,373.89L272.11,379.33L272.59,384.8L273.07,389.45L273.54,392.88L274.02,395.14L274.5,396.3L275.03,396.01L275.56,396.54L276.09,397.12L276.62,397.62L277.15,397.92L277.68,398L278.21,397.88L278.74,397.69L279.27,397.54L279.8,397.57L280.23,396.97L280.67,394.89L281.1,391.31L281.53,386.53L281.97,381.1L282.4,375.72L282.83,371.13L283.27,368.03L283.7,366.93L284.18,367.88L284.66,370.43L285.13,374.32L285.61,379.04L286.09,383.75L286.57,387.72L287.04,390.61L287.52,392.51L288,393.56L288.52,394.62L289.05,394.87L289.58,394.47L290.1,395.05L290.53,394.52L290.97,392.68L291.4,389.53L291.83,385.32L292.27,380.53L292.7,375.78L293.13,371.73L293.57,369L294,368.03L294.48,368.95L294.96,371.45L295.43,375.27L295.91,379.89L296.39,384.52L296.87,388.4L297.34,391.22L297.82,393.08L298.3,394.11L299,394.79L299.7,396.22L300.13,395.7L300.57,393.89L301,390.79L301.43,386.66L301.87,381.95L302.3,377.29L302.73,373.32L303.17,370.63L303.6,369.67L304.08,370.56L304.56,372.95L305.03,376.61L305.51,381.05L305.99,385.49L306.47,389.2L306.94,391.88L307.42,393.66L307.9,394.66L308.3,394.96L308.7,397.21L309.13,396.77L309.57,395.23L310,392.59L310.43,389.07L310.87,385.07L311.3,381.1L311.73,377.71L312.17,375.43L312.6,374.62L313.08,375.23L313.56,376.93L314.03,379.59L314.51,382.84L314.99,386.06L315.47,388.66L315.94,390.45L316.42,391.66L316.9,392.46L317.6,392.99L318.3,394.87L318.73,394.61L319.17,393.68L319.6,392.08L320.03,389.95L320.47,387.53L320.9,385.13L321.33,383.08L321.77,381.7L322.2,381.2L322.68,381.53L323.16,382.48L323.63,384.05L324.11,386.03L324.59,387.94L325.07,389.34L325.54,390.18L326.02,390.77L326.5,391.36L326.9,392.51L327.3,393.18L327.73,392.65L328.17,390.79L328.6,387.59L329.03,383.33L329.47,378.48L329.9,373.68L330.33,369.58L330.77,366.82L331.2,365.83L331.68,366.78L332.16,369.33L332.63,373.23L333.11,377.94L333.59,382.66L334.07,386.62L334.54,389.51L335.02,391.42L335.5,392.46L336.03,393.29L336.57,394.24L337.1,393.78L337.53,393.25L337.97,391.43L338.4,388.29L338.83,384.11L339.27,379.35L339.7,374.63L340.13,370.61L340.57,367.9L341,366.93L341.48,367.84L341.96,370.28L342.43,374.02L342.91,378.55L343.39,383.08L343.87,386.88L344.34,389.63L344.82,391.45L345.3,392.46" fill="none" stroke="#4598d8" stroke-width="0.55" stroke-linejoin="round"/></g>
<rect x="198.3" y="307.5" width="135" height="44.5" fill="none" stroke="#555555" stroke-width="0.7"/>
<rect x="198.3" y="361.2" width="135" height="44.1" fill="none" stroke="#555555" stroke-width="0.7"/>
<path d="M198.3,311.2h1.6M198.3,330.5h1.6M198.3,349.8h1.6M198.3,383.4h1.6M228.25,352v-1.6M228.25,405.3v-1.6M258.2,352v-1.6M258.2,405.3v-1.6M288.15,352v-1.6M288.15,405.3v-1.6M318.1,352v-1.6M318.1,405.3v-1.6" stroke="#555555" stroke-width="0.6" fill="none"/>
<text x="195" y="313.7" font-size="7.4" fill="#2f8bd6" stroke="#2f8bd6" stroke-width="0.2" text-anchor="end" letter-spacing="0.15">0.8</text>
<text x="195" y="332.9" font-size="7.4" fill="#2f8bd6" stroke="#2f8bd6" stroke-width="0.2" text-anchor="end" letter-spacing="0.15">0.6</text>
<text x="195" y="352.2" font-size="7.4" fill="#2f8bd6" stroke="#2f8bd6" stroke-width="0.2" text-anchor="end" letter-spacing="0.15">0.4</text>
<text x="195" y="363.4" font-size="7.4" fill="#2f8bd6" stroke="#2f8bd6" stroke-width="0.2" text-anchor="end" letter-spacing="0.15">1.0</text>
<text x="195" y="385.9" font-size="7.4" fill="#2f8bd6" stroke="#2f8bd6" stroke-width="0.2" text-anchor="end" letter-spacing="0.15">0.6</text>
<text x="195" y="407.6" font-size="7.4" fill="#2f8bd6" stroke="#2f8bd6" stroke-width="0.2" text-anchor="end" letter-spacing="0.15">0.2</text>
<text x="198.9" y="414.2" font-size="7.4" fill="#2b2b2b" stroke="#2b2b2b" stroke-width="0.2" text-anchor="middle">0</text>
<text x="228.25" y="414.2" font-size="7.4" fill="#2b2b2b" stroke="#2b2b2b" stroke-width="0.2" text-anchor="middle">20</text>
<text x="258.2" y="414.2" font-size="7.4" fill="#2b2b2b" stroke="#2b2b2b" stroke-width="0.2" text-anchor="middle">40</text>
<text x="288.15" y="414.2" font-size="7.4" fill="#2b2b2b" stroke="#2b2b2b" stroke-width="0.2" text-anchor="middle">60</text>
<text x="318.1" y="414.2" font-size="7.4" fill="#2b2b2b" stroke="#2b2b2b" stroke-width="0.2" text-anchor="middle">80</text>
<text x="266.7" y="425.4" font-size="8.5" fill="#2b2b2b" stroke="#2b2b2b" stroke-width="0.2" text-anchor="middle" letter-spacing="0.03">Time (s)</text>
<text x="177.6" y="330.8" font-size="8.3" fill="#2f8bd6" stroke="#2f8bd6" stroke-width="0.2" text-anchor="middle" letter-spacing="0.12" transform="rotate(-90 177.6 330.8)"><tspan font-style="italic">Φ</tspan>(<tspan font-style="italic">t</tspan>) (a.u.)</text>
<text x="177.6" y="384.6" font-size="8.3" fill="#2f8bd6" stroke="#2f8bd6" stroke-width="0.2" text-anchor="middle" letter-spacing="0.12" transform="rotate(-90 177.6 384.6)"><tspan font-style="italic">Φ</tspan>(<tspan font-style="italic">t</tspan>) (a.u.)</text>
<text x="327.5" y="315.4" font-size="8.4" fill="#2b2b2b" stroke="#2b2b2b" stroke-width="0.2" text-anchor="end" letter-spacing="-0.5"><tspan font-style="italic">α</tspan> = 1</text>
<text x="326.5" y="371.2" font-size="8.4" fill="#2b2b2b" stroke="#2b2b2b" stroke-width="0.2" text-anchor="end" letter-spacing="0.03"><tspan font-style="italic">α</tspan> = 0.4</text>
<rect x="368.9" y="312.6" width="119.5" height="92.3" fill="none" stroke="#8c8c8c" stroke-width="0.9"/>
<g fill="#2a79b8"><circle cx="370.1" cy="315" r="1.35"/><circle cx="375.93" cy="328.18" r="1.35"/><circle cx="381.71" cy="317.59" r="1.35"/><circle cx="387.48" cy="323.04" r="1.35"/><circle cx="393.26" cy="321.44" r="1.35"/><circle cx="399.35" cy="320.8" r="1.35"/><circle cx="405.13" cy="322.08" r="1.35"/><circle cx="410.9" cy="322.4" r="1.35"/><circle cx="416.68" cy="320.16" r="1.35"/><circle cx="422.45" cy="327.22" r="1.35"/><circle cx="428.55" cy="316.31" r="1.35"/><circle cx="434.32" cy="340.37" r="1.35"/><circle cx="440.1" cy="338.44" r="1.35"/><circle cx="446.19" cy="380.79" r="1.35"/><circle cx="451.97" cy="392.02" r="1.35"/><circle cx="457.74" cy="397.48" r="1.35"/><circle cx="463.52" cy="400.36" r="1.35"/><circle cx="469.29" cy="402.61" r="1.35"/><circle cx="475.39" cy="404.21" r="1.35"/><circle cx="481.16" cy="405.17" r="1.35"/></g>
<path d="M368.9,313.7h1.8M368.9,344.5h1.8M368.9,375.3h1.8M393.3,404.9v-1.8M416.6,404.9v-1.8M440.1,404.9v-1.8M463.5,404.9v-1.8M486.9,404.9v-1.8" stroke="#666" stroke-width="0.6" fill="none"/>
<text x="365.6" y="316.1" font-size="7.4" fill="#2f8bd6" stroke="#2f8bd6" stroke-width="0.2" text-anchor="end" letter-spacing="-0.22">1.0</text>
<text x="365.6" y="347" font-size="7.4" fill="#2f8bd6" stroke="#2f8bd6" stroke-width="0.2" text-anchor="end" letter-spacing="-0.22">0.7</text>
<text x="365.6" y="377.8" font-size="7.4" fill="#2f8bd6" stroke="#2f8bd6" stroke-width="0.2" text-anchor="end" letter-spacing="-0.22">0.4</text>
<text x="370.2" y="414.2" font-size="7.4" fill="#2b2b2b" stroke="#2b2b2b" stroke-width="0.2" text-anchor="middle" letter-spacing="0.18">1.0</text>
<text x="393.5" y="414.2" font-size="7.4" fill="#2b2b2b" stroke="#2b2b2b" stroke-width="0.2" text-anchor="middle" letter-spacing="0.18">0.8</text>
<text x="416.8" y="414.2" font-size="7.4" fill="#2b2b2b" stroke="#2b2b2b" stroke-width="0.2" text-anchor="middle" letter-spacing="0.18">0.6</text>
<text x="440.3" y="414.2" font-size="7.4" fill="#2b2b2b" stroke="#2b2b2b" stroke-width="0.2" text-anchor="middle" letter-spacing="0.18">0.4</text>
<text x="463.7" y="414.2" font-size="7.4" fill="#2b2b2b" stroke="#2b2b2b" stroke-width="0.2" text-anchor="middle" letter-spacing="0.18">0.2</text>
<text x="486.9" y="414.2" font-size="7.4" fill="#2b2b2b" stroke="#2b2b2b" stroke-width="0.2" text-anchor="middle">0</text>
<text x="401" y="377.4" font-size="8.6" fill="#2b2b2b" stroke="#2b2b2b" stroke-width="0.2" text-anchor="middle" letter-spacing="0.26">Space-time</text>
<text x="401" y="387.7" font-size="8.6" fill="#2b2b2b" stroke="#2b2b2b" stroke-width="0.2" text-anchor="middle" letter-spacing="0.21">crystal</text>
<text x="428.9" y="425.2" font-size="8.6" fill="#2b2b2b" stroke="#2b2b2b" stroke-width="0.2" text-anchor="middle">α</text>
<text x="351.1" y="404.1" font-size="8.6" fill="#2f8bd6" stroke="#2f8bd6" stroke-width="0.2" text-anchor="start" letter-spacing="0.27" transform="rotate(-90 351.1 404.1)">Crystalline fraction,</text>
<text x="351.1" y="321.2" font-size="8.6" fill="#2f8bd6" stroke="#2f8bd6" stroke-width="0.2" text-anchor="start" transform="rotate(-90 351.1 321.2)"><tspan font-style="italic">Ξ</tspan></text>
<g clip-path="url(#ci1)"><path d="M522.78,351.45L524.42,308.85L526.06,351.45L527.7,308.85L529.34,351.45L530.98,308.85L532.62,351.45L534.26,308.85L535.9,351.45L537.54,308.85L539.18,351.45L540.82,308.85L542.46,351.45L544.1,308.85L545.74,351.45L547.38,308.85L549.02,351.45L550.66,308.85L552.3,351.45L553.94,308.85L555.58,351.45L557.22,308.85L558.86,351.45L560.51,308.85L562.15,351.45L563.79,308.85L565.43,351.45L567.07,308.85L568.71,351.45L570.35,308.85L571.99,351.45L573.63,308.85L575.27,351.45L576.91,308.85L578.55,351.45L580.19,308.85L581.83,351.45L583.47,308.85L585.11,351.45L586.75,308.85L588.39,351.45L590.03,308.85L591.67,351.45L593.31,308.85L594.95,351.45L596.59,308.85L598.23,351.45L599.87,308.85L601.51,351.45L603.15,308.85L604.79,351.45L606.43,308.85L608.07,351.45L609.71,308.85L611.35,351.45L612.99,308.85L614.63,351.45L616.27,308.85L617.91,351.45L619.55,308.85L621.19,351.45L622.83,308.85L624.47,351.45L626.12,308.85L627.76,351.45L629.4,308.85L631.04,351.45L632.68,308.85L634.32,351.45L635.96,308.85L637.6,351.45L639.24,308.85L640.88,351.45L642.52,308.85L644.16,351.45L645.8,308.85L647.44,351.45L649.08,308.85L650.72,351.45L652.36,308.85L654,351.45L655.64,308.85L657.28,351.45L658.92,308.85L660.56,351.45" fill="none" stroke="#1a76c6" stroke-width="1.12" stroke-linejoin="round"/></g>
<g clip-path="url(#ci2)"><path d="M525.3,403.53L525.54,410.76L525.78,408.4L526.02,406.85L526.26,406.92L526.5,406.44L526.74,404.21L526.98,399.87L527.22,393.68L527.46,386.32L527.7,378.8L527.94,372.16L528.18,367.35L528.42,365.01L528.66,365.57L528.9,368.82L529.14,374.26L529.38,381.03L529.62,388.09L529.86,394.37L530.1,398.93L530.34,401.09L530.58,400.55L530.82,397.42L531.06,392.19L531.3,385.68L531.54,378.9L531.78,372.86L532.02,368.48L532.26,366.41L532.5,366.93L532.74,369.94L532.98,374.96L533.22,381.21L533.46,387.72L533.7,393.51L533.94,397.71L534.18,399.69L534.42,399.19L534.66,396.31L534.9,391.5L535.14,385.51L535.38,379.24L535.62,373.66L535.86,369.6L536.1,367.66L536.34,368.13L536.58,370.91L536.82,375.56L537.06,381.36L537.3,387.42L537.54,392.82L537.78,396.74L538.02,398.61L538.26,398.15L538.5,395.46L538.74,390.97L538.98,385.37L539.22,379.52L539.46,374.31L539.7,370.52L539.94,368.72L540.18,369.16L540.42,371.76L540.66,376.1L540.9,381.5L541.14,387.15L541.38,392.17L541.62,395.82L541.86,397.55L542.1,397.12L542.34,394.62L542.58,390.44L542.82,385.23L543.06,379.79L543.3,374.95L543.54,371.44L543.78,369.78L544.02,370.19L544.26,372.6L544.5,376.63L544.74,381.64L544.98,386.87L545.22,391.52L545.46,394.9L545.7,396.49L545.94,396.09L546.18,393.77L546.42,389.9L546.66,385.09L546.9,380.07L547.14,375.6L547.38,372.37L547.62,370.83L547.86,371.22L548.1,373.44L548.34,377.15L548.58,381.77L548.82,386.61L549.06,390.92L549.3,394.05L549.54,395.54L549.78,395.17L550.02,393.03L550.26,389.44L550.5,384.97L550.74,380.3L550.98,376.14L551.22,373.12L551.46,371.68L551.7,372.04L551.94,374.11L552.18,377.57L552.42,381.89L552.66,386.39L552.9,390.4L553.14,393.31L553.38,394.7L553.62,394.35L553.86,392.36L554.1,389.02L554.34,384.86L554.58,380.52L554.82,376.66L555.06,373.85L555.3,372.52L555.54,372.85L555.78,374.78L556.02,377.99L556.26,382L556.5,386.17L556.74,389.89L556.98,392.58L557.22,393.86L557.46,393.54L557.7,391.68L557.94,388.59L558.18,384.75L558.42,380.74L558.66,377.17L558.9,374.59L559.14,373.36L559.38,373.67L559.62,375.45L559.86,378.42L560.1,382.11L560.34,385.95L560.58,389.37L560.82,391.85L561.06,393.02L561.3,392.73L561.54,391.04L561.78,388.2L562.02,384.65L562.26,380.93L562.5,377.61L562.74,375.18L562.98,374.02L563.22,374.29L563.46,375.94L563.7,378.71L563.94,382.18L564.18,385.81L564.42,389.05L564.66,391.41L564.9,392.54L565.14,392.28L565.38,390.67L565.62,387.97L565.86,384.59L566.1,381.05L566.34,377.89L566.58,375.59L566.82,374.49L567.06,374.75L567.3,376.32L567.54,378.95L567.78,382.24L568.02,385.69L568.26,388.76L568.5,391.01L568.74,392.08L568.98,391.83L569.22,390.3L569.46,387.73L569.7,384.53L569.94,381.17L570.18,378.16L570.42,375.94L570.66,374.85L570.9,375.06L571.14,376.54L571.38,379.07L571.62,382.27L571.86,385.64L572.1,388.69L572.34,390.93L572.58,392.03L572.82,391.82L573.06,390.32L573.3,387.77L573.54,384.54L573.78,381.13L574.02,378.06L574.26,375.8L574.5,374.69L574.74,374.9L574.98,376.41L575.22,378.99L575.46,382.25L575.7,385.69L575.94,388.79L576.18,391.07L576.42,392.19L576.66,391.98L576.9,390.45L577.14,387.85L577.38,384.56L577.62,381.09L577.86,377.96L578.1,375.66L578.34,374.53L578.58,374.74L578.82,376.28L579.06,378.9L579.3,382.22L579.54,385.75L579.78,388.94L580.02,391.31L580.26,392.49L580.5,392.29L580.74,390.73L580.98,388.04L581.22,384.61L581.46,380.98L581.7,377.69L581.94,375.25L582.18,374.04L582.42,374.25L582.66,375.85L582.9,378.63L583.14,382.15L583.38,385.89L583.62,389.27L583.86,391.79L584.1,393.03L584.34,392.82L584.58,391.16L584.82,388.31L585.06,384.69L585.3,380.84L585.54,377.36L585.78,374.78L586.02,373.49L586.26,373.72L586.5,375.42L586.74,378.35L586.98,382.08L587.22,386.03L587.46,389.61L587.7,392.26L587.94,393.58L588.18,393.35L588.42,391.6L588.66,388.58L588.9,384.76L589.14,380.7L589.38,377.03L589.62,374.3L589.86,372.95L590.1,373.19L590.34,374.98L590.58,378.08L590.82,382.01L591.06,386.17L591.3,389.94L591.54,392.74L591.78,394.12L592.02,393.88L592.26,392.03L592.5,388.85L592.74,384.83L592.98,380.56L593.22,376.71L593.46,373.86L593.7,372.45L593.94,372.71L594.18,374.6L594.42,377.84L594.66,381.95L594.9,386.29L595.14,390.22L595.38,393.12L595.62,394.56L595.86,394.29L596.1,392.37L596.34,389.07L596.58,384.88L596.82,380.45L597.06,376.45L597.3,373.5L597.54,372.03L597.78,372.3L598.02,374.26L598.26,377.63L598.5,381.89L598.74,386.4L598.98,390.48L599.22,393.49L599.46,394.98L599.7,394.7L599.94,392.7L600.18,389.28L600.42,384.94L600.66,380.34L600.9,376.2L601.14,373.13L601.38,371.66L601.62,371.98L601.86,374.03L602.1,377.51L602.34,381.86L602.58,386.44L602.82,390.54L603.06,393.55L603.3,395L603.54,394.68L603.78,392.65L604.02,389.22L604.26,384.92L604.5,380.39L604.74,376.34L604.98,373.37L605.22,371.94L605.46,372.25L605.7,374.26L605.94,377.65L606.18,381.9L606.42,386.37L606.66,390.37L606.9,393.3L607.14,394.72L607.38,394.41L607.62,392.43L607.86,389.08L608.1,384.88L608.34,380.47L608.58,376.51L608.82,373.62L609.06,372.22L609.3,372.52L609.54,374.48L609.78,377.79L610.02,381.94L610.26,386.3L610.5,390.2L610.74,393.06L610.98,394.44L611.22,394.14L611.46,392.21L611.7,388.94L611.94,384.84L612.18,380.54L612.42,376.69L612.66,373.86L612.9,372.5L613.14,372.8L613.38,374.71L613.62,377.93L613.86,381.97L614.1,386.22L614.34,390.03L614.58,392.8L614.82,394.11L615.06,393.78L615.3,391.89L615.54,388.72L615.78,384.78L616.02,380.67L616.26,377.01L616.5,374.36L616.74,373.1L616.98,373.42L617.22,375.24L617.46,378.28L617.7,382.07L617.94,386.02L618.18,389.53L618.42,392.08L618.66,393.29L618.9,392.98L619.14,391.23L619.38,388.31L619.62,384.67L619.86,380.89L620.1,377.52L620.34,375.08L620.58,373.93L620.82,374.22L621.06,375.9L621.3,378.7L621.54,382.18L621.78,385.81L622.02,389.03L622.26,391.36L622.5,392.46L622.74,392.18L622.98,390.57L623.22,387.89L623.46,384.57L623.7,381.1L623.94,378.03L624.18,375.8L624.42,374.75L624.66,375.02L624.9,376.56L625.14,379.12L625.38,382.29L625.62,385.59L625.86,388.52L626.1,390.64L626.34,391.64L626.58,391.38L626.82,389.91L627.06,387.48L627.3,384.46L627.54,381.32L627.78,378.53L628.02,376.49L628.26,375.52L628.5,375.74L628.74,377.13L628.98,379.46L629.22,382.37L629.46,385.43L629.7,388.16L629.94,390.15L630.18,391.11L630.42,390.89L630.66,389.53L630.9,387.25L631.14,384.4L631.38,381.42L631.62,378.75L631.86,376.81L632.1,375.87L632.34,376.09L632.58,377.41L632.82,379.64L633.06,382.42L633.3,385.34L633.54,387.94L633.78,389.84L634.02,390.75L634.26,390.54L634.5,389.24L634.74,387.07L634.98,384.36L635.22,381.51L635.46,378.97L635.7,377.12L635.94,376.23L636.18,376.44L636.42,377.7L636.66,379.82L636.9,382.47L637.14,385.24L637.38,387.72L637.62,389.53L637.86,390.39L638.1,390.19L638.34,388.96L638.58,386.89L638.82,384.31L639.06,381.6L639.3,379.19L639.54,377.43L639.78,376.59L640.02,376.78L640.26,377.98L640.5,380L640.74,382.51L640.98,385.15L641.22,387.51L641.46,389.27L641.7,390.15L641.94,390L642.18,388.84L642.42,386.84L642.66,384.3L642.9,381.6L643.14,379.16L643.38,377.34L643.62,376.44L643.86,376.59L644.1,377.79L644.34,379.85L644.58,382.47L644.82,385.25L645.06,387.77L645.3,389.64L645.54,390.57L645.78,390.41L646.02,389.18L646.26,387.06L646.5,384.36L646.74,381.49L646.98,378.9L647.22,376.98L647.46,376.02L647.7,376.18L647.94,377.45L648.18,379.64L648.42,382.41L648.66,385.36L648.9,388.03L649.14,390.01L649.38,390.99L649.62,390.82L649.86,389.52L650.1,387.27L650.34,384.41L650.58,381.39L650.82,378.65L651.06,376.63L651.3,375.62L651.54,375.8L651.78,377.14L652.02,379.45L652.26,382.36L652.5,385.46L652.74,388.26L652.98,390.33L653.22,391.35L653.46,391.17L653.7,389.8L653.94,387.44L654.18,384.46L654.42,381.3L654.66,378.44L654.9,376.32L655.14,375.27L655.38,375.46L655.62,376.86L655.86,379.27L656.1,382.32L656.34,385.55L656.58,388.47L656.82,390.63L657.06,391.7L657.3,391.51L657.54,390.08L657.78,387.62L658.02,384.5L658.26,381.2L658.5,378.22" fill="none" stroke="#1a76c6" stroke-width="0.95" stroke-linejoin="round"/></g>
<rect x="525.1" y="308.1" width="133.5" height="44.1" fill="none" stroke="#7a7a7a" stroke-width="0.8"/>
<rect x="525.1" y="361.4" width="133.5" height="43.7" fill="none" stroke="#7a7a7a" stroke-width="0.8"/>
<path d="M525.1,330.15h1.6M525.1,383.4h1.6M570.03,352.2v-1.6M570.03,405.1v-1.6M614.46,352.2v-1.6M614.46,405.1v-1.6" stroke="#666" stroke-width="0.6" fill="none"/>
<text x="522.6" y="310.5" font-size="7.4" fill="#2f8bd6" stroke="#2f8bd6" stroke-width="0.2" text-anchor="end">1</text>
<text x="522.6" y="332" font-size="7.4" fill="#2f8bd6" stroke="#2f8bd6" stroke-width="0.2" text-anchor="end">0</text>
<text x="522.6" y="354" font-size="7.4" fill="#2f8bd6" stroke="#2f8bd6" stroke-width="0.2" text-anchor="end">−1</text>
<text x="522.6" y="364.2" font-size="7.4" fill="#2f8bd6" stroke="#2f8bd6" stroke-width="0.2" text-anchor="end">0.4</text>
<text x="522.6" y="386" font-size="7.4" fill="#2f8bd6" stroke="#2f8bd6" stroke-width="0.2" text-anchor="end">0</text>
<text x="522.6" y="407.6" font-size="7.4" fill="#2f8bd6" stroke="#2f8bd6" stroke-width="0.2" text-anchor="end">−0.4</text>
<text x="526.5" y="414.2" font-size="7.4" fill="#2b2b2b" stroke="#2b2b2b" stroke-width="0.2" text-anchor="middle">0</text>
<text x="569.6" y="414.2" font-size="7.4" fill="#2b2b2b" stroke="#2b2b2b" stroke-width="0.2" text-anchor="middle">10</text>
<text x="614.5" y="414.2" font-size="7.4" fill="#2b2b2b" stroke="#2b2b2b" stroke-width="0.2" text-anchor="middle">20</text>
<text x="657.6" y="414.2" font-size="7.4" fill="#2b2b2b" stroke="#2b2b2b" stroke-width="0.2" text-anchor="middle">30</text>
<text x="594.8" y="425.4" font-size="8.5" fill="#2b2b2b" stroke="#2b2b2b" stroke-width="0.2" text-anchor="middle" letter-spacing="0.03">Time (s)</text>
<text x="506" y="330.2" font-size="8.5" fill="#2f8bd6" stroke="#2f8bd6" stroke-width="0.2" text-anchor="middle" letter-spacing="-0.01" transform="rotate(-90 506 330.2)"><tspan font-style="italic">n</tspan><tspan font-style="italic" font-size="5.61" dy="1.87">x</tspan><tspan dy="-1.87">(</tspan><tspan font-style="italic">t</tspan>)</text>
<text x="506" y="383.6" font-size="8.5" fill="#2f8bd6" stroke="#2f8bd6" stroke-width="0.2" text-anchor="middle" letter-spacing="-0.01" transform="rotate(-90 506 383.6)"><tspan font-style="italic">n</tspan><tspan font-style="italic" font-size="5.61" dy="1.87">x</tspan><tspan dy="-1.87">(</tspan><tspan font-style="italic">t</tspan>)</text>
<text x="655.6" y="316.5" font-size="8.4" fill="#2b2b2b" stroke="#2b2b2b" stroke-width="0.2" text-anchor="end" letter-spacing="-0.42"><tspan font-style="italic">α</tspan> = 1</text>
<text x="655.2" y="371.5" font-size="8.4" fill="#2b2b2b" stroke="#2b2b2b" stroke-width="0.2" text-anchor="end" letter-spacing="0.19"><tspan font-style="italic">α</tspan> = 0.4</text>
<text x="0.4" y="8.8" font-size="12.3" font-weight="bold" fill="#000" stroke="#000" stroke-width="0.35">a</text>
<text x="253.2" y="9" font-size="12.3" font-weight="bold" fill="#000" stroke="#000" stroke-width="0.35">b</text>
<text x="442.4" y="9.7" font-size="12.3" font-weight="bold" fill="#000" stroke="#000" stroke-width="0.35">c</text>
<text x="0" y="151" font-size="12.3" font-weight="bold" fill="#000" stroke="#000" stroke-width="0.35">d</text>
<text x="353.7" y="151.7" font-size="12.3" font-weight="bold" fill="#000" stroke="#000" stroke-width="0.35">e</text>
<text x="0.2" y="302.5" font-size="12.3" font-weight="bold" fill="#000" stroke="#000" stroke-width="0.35">f</text>
<text x="169.8" y="299.6" font-size="12.3" font-weight="bold" fill="#000" stroke="#000" stroke-width="0.35">g</text>
<text x="342.6" y="309.1" font-size="12.3" font-weight="bold" fill="#000" stroke="#000" stroke-width="0.35">h</text>
<text x="496.8" y="306.7" font-size="12.3" font-weight="bold" fill="#000" stroke="#000" stroke-width="0.35">i</text>
</g>
</svg>
</body></html>
